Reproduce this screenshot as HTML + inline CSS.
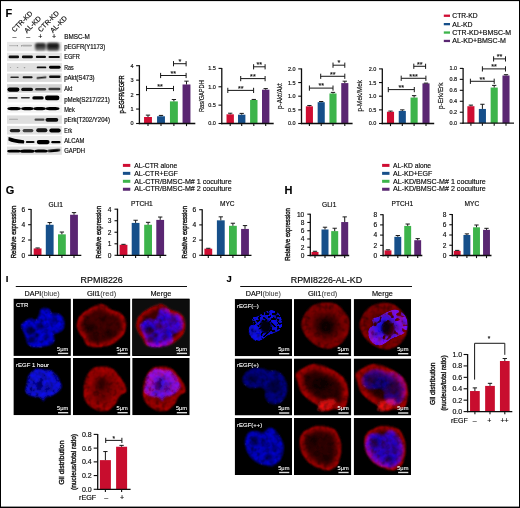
<!DOCTYPE html><html><head><meta charset="utf-8"><style>html,body{margin:0;padding:0;background:#fff;overflow:hidden;width:520px;height:508px;}svg{display:block;}text{font-family:"Liberation Sans", sans-serif;stroke:#1c1c1c;stroke-width:0.16px;}text.w{stroke:#fff;stroke-width:0.1px;}text.med{stroke-width:0.38px;}</style></head><body>
<svg width="520" height="508" viewBox="0 0 520 508">
<defs>
<filter id="b04" x="-20%" y="-20%" width="140%" height="140%"><feGaussianBlur stdDeviation="0.4"/></filter>
<filter id="soft" x="0" y="0" width="520" height="508" filterUnits="userSpaceOnUse"><feGaussianBlur stdDeviation="0.35"/></filter>
<filter id="b06" x="-50%" y="-50%" width="200%" height="200%"><feGaussianBlur stdDeviation="0.6"/></filter>
<filter id="b1" x="-50%" y="-50%" width="200%" height="200%"><feGaussianBlur stdDeviation="1"/></filter>
<filter id="b15" x="-50%" y="-50%" width="200%" height="200%"><feGaussianBlur stdDeviation="1.5"/></filter>
</defs>
<rect x="0" y="0" width="520" height="508" fill="#fff"/>
<g id="content" filter="url(#soft)">
<text x="5.5" y="16.6" font-size="11" font-weight="bold" fill="#000">F</text>
<text x="14.5" y="32.5" font-size="7" transform="rotate(-45 14.5 32.5)">CTR-KD</text>
<text x="27" y="33.4" font-size="7" transform="rotate(-45 27 33.4)">AL-KD</text>
<text x="40.8" y="32.4" font-size="7" transform="rotate(-45 40.8 32.4)">CTR-KD</text>
<text x="53" y="33.2" font-size="7" transform="rotate(-45 53 33.2)">AL-KD</text>
<text x="14.4" y="38.8" font-size="7" text-anchor="middle">–</text>
<text x="28.1" y="38.8" font-size="7" text-anchor="middle">–</text>
<text x="40.3" y="38.8" font-size="7" text-anchor="middle">+</text>
<text x="54.1" y="38.8" font-size="7" text-anchor="middle">+</text>
<g filter="url(#b04)">
<rect x="7" y="41.9" width="54.8" height="9.4" fill="#e8e8e8"/>
<rect x="7" y="52.8" width="54.8" height="8.3" fill="#e4e4e4"/>
<rect x="7" y="63.1" width="54.8" height="8.5" fill="#e0e0e0"/>
<rect x="7" y="73.5" width="54.8" height="8.4" fill="#dcdcdc"/>
<rect x="7" y="84.2" width="54.8" height="8.5" fill="#d4d4d4"/>
<rect x="7" y="94.3" width="54.8" height="8.1" fill="#f2f2f2"/>
<rect x="7" y="104.6" width="54.8" height="8.1" fill="#f4f4f4"/>
<rect x="7" y="115.4" width="54.8" height="8.4" fill="#dedede"/>
<rect x="7" y="125.9" width="54.8" height="8.6" fill="#e0e0e0"/>
<rect x="7" y="136" width="54.8" height="8.8" fill="#ececec"/>
<rect x="7" y="146.6" width="54.8" height="8.2" fill="#dedede"/>
</g>
<g>
<rect x="9" y="44.9" width="9" height="1.4" rx="0.7" fill="#000" opacity="0.18" filter="url(#b06)"/>
<rect x="22" y="44.8" width="10" height="1.6" rx="0.8" fill="#000" opacity="0.25" filter="url(#b06)"/>
<rect x="20.9" y="45.2" width="1.2" height="1.2" rx="0.6" fill="#000" opacity="0.5" filter="url(#b04)"/>
<rect x="17" y="45.3" width="1" height="1" rx="0.5" fill="#000" opacity="0.4" filter="url(#b04)"/>
<rect x="35.1" y="43" width="10.8" height="7.6" rx="2.2" fill="#000" opacity="0.6" filter="url(#b1)"/>
<rect x="35.5" y="43.8" width="10" height="3.2" rx="1.6" fill="#000" opacity="0.6" filter="url(#b1)"/>
<rect x="46.7" y="42.8" width="12.6" height="8" rx="2.2" fill="#000" opacity="0.7" filter="url(#b1)"/>
<rect x="47.25" y="43.8" width="11.5" height="4" rx="2" fill="#000" opacity="0.65" filter="url(#b1)"/>
<rect x="8.55" y="55.6" width="10.5" height="2.6" rx="1.3" fill="#000" opacity="0.95" filter="url(#b06)"/>
<rect x="21.9" y="55.6" width="11" height="2.6" rx="1.3" fill="#000" opacity="0.95" filter="url(#b06)"/>
<rect x="35.8" y="55.8" width="10.2" height="2.2" rx="1.1" fill="#000" opacity="0.95" filter="url(#b06)"/>
<rect x="48.5" y="55.9" width="11.4" height="2" rx="1" fill="#000" opacity="0.95" filter="url(#b06)"/>
<rect x="9.9" y="66.9" width="1.2" height="1" rx="0.5" fill="#000" opacity="0.25" filter="url(#b06)"/>
<rect x="16.8" y="66.95" width="1.6" height="1.1" rx="0.55" fill="#000" opacity="0.3" filter="url(#b06)"/>
<rect x="23.7" y="67.05" width="1.6" height="1.1" rx="0.55" fill="#000" opacity="0.3" filter="url(#b06)"/>
<rect x="36.7" y="66.45" width="9.6" height="1.9" rx="0.95" fill="#000" opacity="0.95" filter="url(#b06)"/>
<rect x="49" y="65.75" width="11.6" height="2.9" rx="1.45" fill="#000" opacity="1" filter="url(#b06)"/>
<rect x="10.3" y="76.45" width="8.6" height="1.5" rx="0.75" fill="#000" opacity="0.8" filter="url(#b06)"/>
<rect x="22.6" y="76.2" width="10" height="2" rx="1" fill="#000" opacity="0.9" filter="url(#b06)"/>
<rect x="36.5" y="76.7" width="10" height="1.8" rx="0.9" fill="#000" opacity="0.85" filter="url(#b06)" transform="rotate(-6 41.5 77.6)"/>
<rect x="49.05" y="75.5" width="11.5" height="2.6" rx="1.3" fill="#000" opacity="0.95" filter="url(#b06)"/>
<rect x="7.4" y="87.5" width="12" height="4.2" rx="2.1" fill="#000" opacity="1" filter="url(#b06)"/>
<rect x="21.2" y="87.7" width="11.8" height="3.4" rx="1.7" fill="#000" opacity="0.95" filter="url(#b06)"/>
<rect x="35.1" y="87.9" width="11" height="2.6" rx="1.3" fill="#000" opacity="0.72" filter="url(#b06)"/>
<rect x="48.4" y="87.7" width="12" height="2.6" rx="1.3" fill="#000" opacity="0.72" filter="url(#b06)"/>
<rect x="8.15" y="97.1" width="9.5" height="1.6" rx="0.8" fill="#000" opacity="0.75" filter="url(#b06)"/>
<rect x="20.9" y="97" width="9" height="1.6" rx="0.8" fill="#000" opacity="0.8" filter="url(#b06)"/>
<rect x="32.3" y="96.2" width="11.4" height="3.4" rx="1.7" fill="#000" opacity="1" filter="url(#b06)"/>
<rect x="45" y="95.6" width="14.4" height="4.6" rx="2.2" fill="#000" opacity="1" filter="url(#b06)"/>
<rect x="7.3" y="107" width="13.6" height="3.2" rx="3.81" ry="1.6" fill="#000" opacity="1" filter="url(#b06)"/>
<rect x="21.1" y="107" width="12.6" height="3.2" rx="3.53" ry="1.6" fill="#000" opacity="1" filter="url(#b06)"/>
<rect x="33.3" y="107" width="12.6" height="3.2" rx="3.53" ry="1.6" fill="#000" opacity="1" filter="url(#b06)"/>
<rect x="45.5" y="107" width="14" height="3.2" rx="3.92" ry="1.6" fill="#000" opacity="1" filter="url(#b06)"/>
<rect x="9" y="118.8" width="9" height="1" rx="0.5" fill="#000" opacity="0.25" filter="url(#b06)"/>
<rect x="34.5" y="118.6" width="10" height="2.2" rx="1.1" fill="#000" opacity="0.65" filter="url(#b06)"/>
<rect x="45.5" y="117.9" width="12.8" height="3.8" rx="1.9" fill="#000" opacity="0.95" filter="url(#b06)"/>
<rect x="9.8" y="129" width="10.4" height="3.2" rx="1.6" fill="#000" opacity="0.85" filter="url(#b06)"/>
<rect x="22.6" y="129.05" width="10.8" height="3.1" rx="1.55" fill="#000" opacity="0.7" filter="url(#b06)"/>
<rect x="36.2" y="128.2" width="11.2" height="4" rx="2" fill="#000" opacity="0.9" filter="url(#b06)"/>
<rect x="49.3" y="128.5" width="11.4" height="4" rx="2" fill="#000" opacity="1" filter="url(#b06)"/>
<path d="M8.6 137.0 Q13 138.8 23.8 140.2 Q25 141.6 23.8 143.4 Q13 143.4 8.4 140.6 Z" fill="#000" filter="url(#b06)"/>
<rect x="25.8" y="140.9" width="8.8" height="2.2" rx="1.1" fill="#000" opacity="0.95" filter="url(#b06)"/>
<rect x="36.8" y="140" width="12.8" height="4.2" rx="2.1" fill="#000" opacity="1" filter="url(#b06)"/>
<rect x="51.2" y="141.1" width="9.4" height="2.2" rx="1.1" fill="#000" opacity="1" filter="url(#b06)"/>
<rect x="7.2" y="149.8" width="13.6" height="2.8" rx="3.81" ry="1.4" fill="#000" opacity="1" filter="url(#b06)"/>
<rect x="19.9" y="149.6" width="14.6" height="3.2" rx="4.09" ry="1.6" fill="#000" opacity="1" filter="url(#b06)"/>
<rect x="34.2" y="149.5" width="13.6" height="3" rx="3.81" ry="1.5" fill="#000" opacity="1" filter="url(#b06)"/>
<rect x="47.5" y="149.3" width="13" height="2.6" rx="3.64" ry="1.3" fill="#000" opacity="1" filter="url(#b06)" transform="rotate(-5 54 150.6)"/>
</g>
<text x="64.2" y="39" font-size="6.3" textLength="25.7" lengthAdjust="spacingAndGlyphs">BMSC-M</text>
<text x="64.2" y="49.2" font-size="6.3" textLength="41" lengthAdjust="spacingAndGlyphs">pEGFR(Y1173)</text>
<text x="64.2" y="59.4" font-size="6.3" textLength="15.7" lengthAdjust="spacingAndGlyphs">EGFR</text>
<text x="64.2" y="70" font-size="6.3" textLength="9.4" lengthAdjust="spacingAndGlyphs">Ras</text>
<text x="64.2" y="80.1" font-size="6.3" textLength="30.4" lengthAdjust="spacingAndGlyphs">pAkt(S473)</text>
<text x="64.2" y="90.7" font-size="6.3" textLength="8" lengthAdjust="spacingAndGlyphs">Akt</text>
<text x="64.2" y="101.6" font-size="6.3" textLength="45.7" lengthAdjust="spacingAndGlyphs">pMek(S217/221)</text>
<text x="64.2" y="111.9" font-size="6.3" textLength="10.6" lengthAdjust="spacingAndGlyphs">Mek</text>
<text x="64.2" y="122.3" font-size="6.3" textLength="45.7" lengthAdjust="spacingAndGlyphs">pErk(T202/Y204)</text>
<text x="64.2" y="133.3" font-size="6.3" textLength="7.8" lengthAdjust="spacingAndGlyphs">Erk</text>
<text x="64.2" y="142.9" font-size="6.3" textLength="20.2" lengthAdjust="spacingAndGlyphs">ALCAM</text>
<text x="64.2" y="153.3" font-size="6.3" textLength="20.9" lengthAdjust="spacingAndGlyphs">GAPDH</text>
<rect x="443.8" y="14.6" width="6.2" height="2.3" fill="#cf1033"/>
<text x="452.3" y="18.2" font-size="6.8" textLength="25.3" lengthAdjust="spacingAndGlyphs">CTR-KD</text>
<rect x="443.8" y="23" width="6.2" height="2.3" fill="#14508a"/>
<text x="452.3" y="26.6" font-size="6.8" textLength="20.3" lengthAdjust="spacingAndGlyphs">AL-KD</text>
<rect x="443.8" y="31.4" width="6.2" height="2.3" fill="#3cb44b"/>
<text x="452.3" y="35" font-size="6.8" textLength="58.8" lengthAdjust="spacingAndGlyphs">CTR-KD+BMSC-M</text>
<rect x="443.8" y="39.8" width="6.2" height="2.3" fill="#5a2672"/>
<text x="452.3" y="43.4" font-size="6.8" textLength="53.6" lengthAdjust="spacingAndGlyphs">AL-KD+BMSC-M</text>
<rect x="144.05" y="117" width="7.9" height="6.5" fill="#cf1033"/>
<line x1="148" y1="115.12" x2="148" y2="117" stroke="#1a1a1a" stroke-width="1"/>
<line x1="145.85" y1="115.12" x2="150.15" y2="115.12" stroke="#1a1a1a" stroke-width="1"/>
<rect x="157.05" y="116.28" width="7.9" height="7.22" fill="#14508a"/>
<line x1="161" y1="115.41" x2="161" y2="116.28" stroke="#1a1a1a" stroke-width="1"/>
<line x1="158.85" y1="115.41" x2="163.15" y2="115.41" stroke="#1a1a1a" stroke-width="1"/>
<rect x="169.95" y="101.39" width="7.9" height="22.11" fill="#3cb44b"/>
<line x1="173.9" y1="99.51" x2="173.9" y2="101.39" stroke="#1a1a1a" stroke-width="1"/>
<line x1="171.75" y1="99.51" x2="176.05" y2="99.51" stroke="#1a1a1a" stroke-width="1"/>
<rect x="182.55" y="84.48" width="7.9" height="39.02" fill="#5a2672"/>
<line x1="186.5" y1="81.16" x2="186.5" y2="84.48" stroke="#1a1a1a" stroke-width="1"/>
<line x1="184.35" y1="81.16" x2="188.65" y2="81.16" stroke="#1a1a1a" stroke-width="1"/>
<line x1="139.4" y1="65.2" x2="139.4" y2="124.15" stroke="#111" stroke-width="1.3"/>
<line x1="138.75" y1="123.5" x2="195.3" y2="123.5" stroke="#111" stroke-width="1.3"/>
<line x1="136.1" y1="123.5" x2="139.4" y2="123.5" stroke="#111" stroke-width="1.1"/>
<text x="133.5" y="125.48" font-size="5.5" text-anchor="end">0</text>
<line x1="136.1" y1="109.05" x2="139.4" y2="109.05" stroke="#111" stroke-width="1.1"/>
<text x="133.5" y="111.03" font-size="5.5" text-anchor="end">1</text>
<line x1="136.1" y1="94.6" x2="139.4" y2="94.6" stroke="#111" stroke-width="1.1"/>
<text x="133.5" y="96.58" font-size="5.5" text-anchor="end">2</text>
<line x1="136.1" y1="80.15" x2="139.4" y2="80.15" stroke="#111" stroke-width="1.1"/>
<text x="133.5" y="82.13" font-size="5.5" text-anchor="end">3</text>
<line x1="136.1" y1="65.7" x2="139.4" y2="65.7" stroke="#111" stroke-width="1.1"/>
<text x="133.5" y="67.68" font-size="5.5" text-anchor="end">4</text>
<line x1="148" y1="123.5" x2="148" y2="126.1" stroke="#111" stroke-width="1.1"/>
<line x1="161" y1="123.5" x2="161" y2="126.1" stroke="#111" stroke-width="1.1"/>
<line x1="173.9" y1="123.5" x2="173.9" y2="126.1" stroke="#111" stroke-width="1.1"/>
<line x1="186.5" y1="123.5" x2="186.5" y2="126.1" stroke="#111" stroke-width="1.1"/>
<line x1="146.5" y1="88.5" x2="173.5" y2="88.5" stroke="#1a1a1a" stroke-width="1"/>
<line x1="146.5" y1="85.9" x2="146.5" y2="91.1" stroke="#1a1a1a" stroke-width="1"/>
<line x1="173.5" y1="85.9" x2="173.5" y2="91.1" stroke="#1a1a1a" stroke-width="1"/>
<text x="160" y="88.7" font-size="7.2" text-anchor="middle">**</text>
<line x1="160.6" y1="75.5" x2="186.1" y2="75.5" stroke="#1a1a1a" stroke-width="1"/>
<line x1="160.6" y1="72.9" x2="160.6" y2="78.1" stroke="#1a1a1a" stroke-width="1"/>
<line x1="186.1" y1="72.9" x2="186.1" y2="78.1" stroke="#1a1a1a" stroke-width="1"/>
<text x="173.35" y="75.7" font-size="7.2" text-anchor="middle">**</text>
<line x1="173.5" y1="63.7" x2="186.1" y2="63.7" stroke="#1a1a1a" stroke-width="1"/>
<line x1="173.5" y1="61.1" x2="173.5" y2="66.3" stroke="#1a1a1a" stroke-width="1"/>
<line x1="186.1" y1="61.1" x2="186.1" y2="66.3" stroke="#1a1a1a" stroke-width="1"/>
<text x="179.8" y="63.9" font-size="7.2" text-anchor="middle">*</text>
<text x="124" y="94.4" font-size="7.2" text-anchor="middle" class="med" transform="rotate(-90 124 94.4)" textLength="38.2" lengthAdjust="spacingAndGlyphs">p-EGFR/EGFR</text>
<rect x="226.5" y="114.32" width="7.4" height="9.18" fill="#cf1033"/>
<line x1="230.2" y1="113.21" x2="230.2" y2="114.32" stroke="#1a1a1a" stroke-width="1"/>
<line x1="228.05" y1="113.21" x2="232.35" y2="113.21" stroke="#1a1a1a" stroke-width="1"/>
<rect x="238" y="114.68" width="7.4" height="8.82" fill="#14508a"/>
<line x1="241.7" y1="113.4" x2="241.7" y2="114.68" stroke="#1a1a1a" stroke-width="1"/>
<line x1="239.55" y1="113.4" x2="243.85" y2="113.4" stroke="#1a1a1a" stroke-width="1"/>
<rect x="250.1" y="99.99" width="7.4" height="23.51" fill="#3cb44b"/>
<line x1="253.8" y1="99.44" x2="253.8" y2="99.99" stroke="#1a1a1a" stroke-width="1"/>
<line x1="251.65" y1="99.44" x2="255.95" y2="99.44" stroke="#1a1a1a" stroke-width="1"/>
<rect x="262" y="89.71" width="7.4" height="33.79" fill="#5a2672"/>
<line x1="265.7" y1="88.6" x2="265.7" y2="89.71" stroke="#1a1a1a" stroke-width="1"/>
<line x1="263.55" y1="88.6" x2="267.85" y2="88.6" stroke="#1a1a1a" stroke-width="1"/>
<line x1="221.8" y1="67.9" x2="221.8" y2="124.15" stroke="#111" stroke-width="1.3"/>
<line x1="221.15" y1="123.5" x2="273.7" y2="123.5" stroke="#111" stroke-width="1.3"/>
<line x1="218.5" y1="123.5" x2="221.8" y2="123.5" stroke="#111" stroke-width="1.1"/>
<text x="215.9" y="125.48" font-size="5.5" text-anchor="end">0.0</text>
<line x1="218.5" y1="105.13" x2="221.8" y2="105.13" stroke="#111" stroke-width="1.1"/>
<text x="215.9" y="107.11" font-size="5.5" text-anchor="end">0.5</text>
<line x1="218.5" y1="86.77" x2="221.8" y2="86.77" stroke="#111" stroke-width="1.1"/>
<text x="215.9" y="88.75" font-size="5.5" text-anchor="end">1.0</text>
<line x1="218.5" y1="68.4" x2="221.8" y2="68.4" stroke="#111" stroke-width="1.1"/>
<text x="215.9" y="70.38" font-size="5.5" text-anchor="end">1.5</text>
<line x1="230.2" y1="123.5" x2="230.2" y2="126.1" stroke="#111" stroke-width="1.1"/>
<line x1="241.7" y1="123.5" x2="241.7" y2="126.1" stroke="#111" stroke-width="1.1"/>
<line x1="253.8" y1="123.5" x2="253.8" y2="126.1" stroke="#111" stroke-width="1.1"/>
<line x1="265.7" y1="123.5" x2="265.7" y2="126.1" stroke="#111" stroke-width="1.1"/>
<line x1="227.8" y1="90.4" x2="253.6" y2="90.4" stroke="#1a1a1a" stroke-width="1"/>
<line x1="227.8" y1="87.8" x2="227.8" y2="93" stroke="#1a1a1a" stroke-width="1"/>
<line x1="253.6" y1="87.8" x2="253.6" y2="93" stroke="#1a1a1a" stroke-width="1"/>
<text x="240.7" y="90.6" font-size="7.2" text-anchor="middle">**</text>
<line x1="240.7" y1="78.6" x2="265.1" y2="78.6" stroke="#1a1a1a" stroke-width="1"/>
<line x1="240.7" y1="76" x2="240.7" y2="81.2" stroke="#1a1a1a" stroke-width="1"/>
<line x1="265.1" y1="76" x2="265.1" y2="81.2" stroke="#1a1a1a" stroke-width="1"/>
<text x="252.9" y="78.8" font-size="7.2" text-anchor="middle">**</text>
<line x1="253.6" y1="66.8" x2="265.1" y2="66.8" stroke="#1a1a1a" stroke-width="1"/>
<line x1="253.6" y1="64.2" x2="253.6" y2="69.4" stroke="#1a1a1a" stroke-width="1"/>
<line x1="265.1" y1="64.2" x2="265.1" y2="69.4" stroke="#1a1a1a" stroke-width="1"/>
<text x="259.35" y="67" font-size="7.2" text-anchor="middle">**</text>
<text x="204.2" y="96.1" font-size="7.0" text-anchor="middle" transform="rotate(-90 204.2 96.1)" textLength="31.8" lengthAdjust="spacingAndGlyphs">Ras/GAPDH</text>
<rect x="305.85" y="106.3" width="7.1" height="17.2" fill="#cf1033"/>
<line x1="309.4" y1="105.48" x2="309.4" y2="106.3" stroke="#1a1a1a" stroke-width="1"/>
<line x1="307.25" y1="105.48" x2="311.55" y2="105.48" stroke="#1a1a1a" stroke-width="1"/>
<rect x="317.65" y="102.21" width="7.1" height="21.29" fill="#14508a"/>
<line x1="321.2" y1="101.52" x2="321.2" y2="102.21" stroke="#1a1a1a" stroke-width="1"/>
<line x1="319.05" y1="101.52" x2="323.35" y2="101.52" stroke="#1a1a1a" stroke-width="1"/>
<rect x="329.45" y="93.47" width="7.1" height="30.03" fill="#3cb44b"/>
<line x1="333" y1="92.38" x2="333" y2="93.47" stroke="#1a1a1a" stroke-width="1"/>
<line x1="330.85" y1="92.38" x2="335.15" y2="92.38" stroke="#1a1a1a" stroke-width="1"/>
<rect x="341.25" y="83.1" width="7.1" height="40.4" fill="#5a2672"/>
<line x1="344.8" y1="81.19" x2="344.8" y2="83.1" stroke="#1a1a1a" stroke-width="1"/>
<line x1="342.65" y1="81.19" x2="346.95" y2="81.19" stroke="#1a1a1a" stroke-width="1"/>
<line x1="301.5" y1="68.4" x2="301.5" y2="124.15" stroke="#111" stroke-width="1.3"/>
<line x1="300.85" y1="123.5" x2="352.6" y2="123.5" stroke="#111" stroke-width="1.3"/>
<line x1="298.2" y1="123.5" x2="301.5" y2="123.5" stroke="#111" stroke-width="1.1"/>
<text x="295.6" y="125.48" font-size="5.5" text-anchor="end">0.0</text>
<line x1="298.2" y1="109.85" x2="301.5" y2="109.85" stroke="#111" stroke-width="1.1"/>
<text x="295.6" y="111.83" font-size="5.5" text-anchor="end">0.5</text>
<line x1="298.2" y1="96.2" x2="301.5" y2="96.2" stroke="#111" stroke-width="1.1"/>
<text x="295.6" y="98.18" font-size="5.5" text-anchor="end">1.0</text>
<line x1="298.2" y1="82.55" x2="301.5" y2="82.55" stroke="#111" stroke-width="1.1"/>
<text x="295.6" y="84.53" font-size="5.5" text-anchor="end">1.5</text>
<line x1="298.2" y1="68.9" x2="301.5" y2="68.9" stroke="#111" stroke-width="1.1"/>
<text x="295.6" y="70.88" font-size="5.5" text-anchor="end">2.0</text>
<line x1="309.4" y1="123.5" x2="309.4" y2="126.1" stroke="#111" stroke-width="1.1"/>
<line x1="321.2" y1="123.5" x2="321.2" y2="126.1" stroke="#111" stroke-width="1.1"/>
<line x1="333" y1="123.5" x2="333" y2="126.1" stroke="#111" stroke-width="1.1"/>
<line x1="344.8" y1="123.5" x2="344.8" y2="126.1" stroke="#111" stroke-width="1.1"/>
<line x1="309.4" y1="88.1" x2="333" y2="88.1" stroke="#1a1a1a" stroke-width="1"/>
<line x1="309.4" y1="85.5" x2="309.4" y2="90.7" stroke="#1a1a1a" stroke-width="1"/>
<line x1="333" y1="85.5" x2="333" y2="90.7" stroke="#1a1a1a" stroke-width="1"/>
<text x="321.2" y="88.3" font-size="7.2" text-anchor="middle">**</text>
<line x1="320.7" y1="76.3" x2="344.8" y2="76.3" stroke="#1a1a1a" stroke-width="1"/>
<line x1="320.7" y1="73.7" x2="320.7" y2="78.9" stroke="#1a1a1a" stroke-width="1"/>
<line x1="344.8" y1="73.7" x2="344.8" y2="78.9" stroke="#1a1a1a" stroke-width="1"/>
<text x="332.75" y="76.5" font-size="7.2" text-anchor="middle">**</text>
<line x1="333" y1="65.2" x2="344.8" y2="65.2" stroke="#1a1a1a" stroke-width="1"/>
<line x1="333" y1="62.6" x2="333" y2="67.8" stroke="#1a1a1a" stroke-width="1"/>
<line x1="344.8" y1="62.6" x2="344.8" y2="67.8" stroke="#1a1a1a" stroke-width="1"/>
<text x="338.9" y="65.4" font-size="7.2" text-anchor="middle">*</text>
<text x="281.6" y="96.1" font-size="7.0" text-anchor="middle" transform="rotate(-90 281.6 96.1)" textLength="25.6" lengthAdjust="spacingAndGlyphs">p-Akt/Akt</text>
<rect x="386.95" y="111.76" width="7.1" height="11.74" fill="#cf1033"/>
<line x1="390.5" y1="111.08" x2="390.5" y2="111.76" stroke="#1a1a1a" stroke-width="1"/>
<line x1="388.35" y1="111.08" x2="392.65" y2="111.08" stroke="#1a1a1a" stroke-width="1"/>
<rect x="398.75" y="110.94" width="7.1" height="12.56" fill="#14508a"/>
<line x1="402.3" y1="109.85" x2="402.3" y2="110.94" stroke="#1a1a1a" stroke-width="1"/>
<line x1="400.15" y1="109.85" x2="404.45" y2="109.85" stroke="#1a1a1a" stroke-width="1"/>
<rect x="410.55" y="97.56" width="7.1" height="25.94" fill="#3cb44b"/>
<line x1="414.1" y1="95.65" x2="414.1" y2="97.56" stroke="#1a1a1a" stroke-width="1"/>
<line x1="411.95" y1="95.65" x2="416.25" y2="95.65" stroke="#1a1a1a" stroke-width="1"/>
<rect x="422.45" y="83.37" width="7.1" height="40.13" fill="#5a2672"/>
<line x1="426" y1="83.1" x2="426" y2="83.37" stroke="#1a1a1a" stroke-width="1"/>
<line x1="423.85" y1="83.1" x2="428.15" y2="83.1" stroke="#1a1a1a" stroke-width="1"/>
<line x1="382.3" y1="68.4" x2="382.3" y2="124.15" stroke="#111" stroke-width="1.3"/>
<line x1="381.65" y1="123.5" x2="434.2" y2="123.5" stroke="#111" stroke-width="1.3"/>
<line x1="379" y1="123.5" x2="382.3" y2="123.5" stroke="#111" stroke-width="1.1"/>
<text x="376.4" y="125.48" font-size="5.5" text-anchor="end">0.0</text>
<line x1="379" y1="109.85" x2="382.3" y2="109.85" stroke="#111" stroke-width="1.1"/>
<text x="376.4" y="111.83" font-size="5.5" text-anchor="end">0.5</text>
<line x1="379" y1="96.2" x2="382.3" y2="96.2" stroke="#111" stroke-width="1.1"/>
<text x="376.4" y="98.18" font-size="5.5" text-anchor="end">1.0</text>
<line x1="379" y1="82.55" x2="382.3" y2="82.55" stroke="#111" stroke-width="1.1"/>
<text x="376.4" y="84.53" font-size="5.5" text-anchor="end">1.5</text>
<line x1="379" y1="68.9" x2="382.3" y2="68.9" stroke="#111" stroke-width="1.1"/>
<text x="376.4" y="70.88" font-size="5.5" text-anchor="end">2.0</text>
<line x1="390.5" y1="123.5" x2="390.5" y2="126.1" stroke="#111" stroke-width="1.1"/>
<line x1="402.3" y1="123.5" x2="402.3" y2="126.1" stroke="#111" stroke-width="1.1"/>
<line x1="414.1" y1="123.5" x2="414.1" y2="126.1" stroke="#111" stroke-width="1.1"/>
<line x1="426" y1="123.5" x2="426" y2="126.1" stroke="#111" stroke-width="1.1"/>
<line x1="388.3" y1="89.6" x2="414.3" y2="89.6" stroke="#1a1a1a" stroke-width="1"/>
<line x1="388.3" y1="87" x2="388.3" y2="92.2" stroke="#1a1a1a" stroke-width="1"/>
<line x1="414.3" y1="87" x2="414.3" y2="92.2" stroke="#1a1a1a" stroke-width="1"/>
<text x="401.3" y="89.8" font-size="7.2" text-anchor="middle">**</text>
<line x1="401.2" y1="78.3" x2="425.9" y2="78.3" stroke="#1a1a1a" stroke-width="1"/>
<line x1="401.2" y1="75.7" x2="401.2" y2="80.9" stroke="#1a1a1a" stroke-width="1"/>
<line x1="425.9" y1="75.7" x2="425.9" y2="80.9" stroke="#1a1a1a" stroke-width="1"/>
<text x="413.55" y="78.5" font-size="7.2" text-anchor="middle">***</text>
<line x1="413.8" y1="66.3" x2="425.6" y2="66.3" stroke="#1a1a1a" stroke-width="1"/>
<line x1="413.8" y1="63.7" x2="413.8" y2="68.9" stroke="#1a1a1a" stroke-width="1"/>
<line x1="425.6" y1="63.7" x2="425.6" y2="68.9" stroke="#1a1a1a" stroke-width="1"/>
<text x="419.7" y="66.5" font-size="7.2" text-anchor="middle">**</text>
<text x="362.3" y="95.8" font-size="7.0" text-anchor="middle" transform="rotate(-90 362.3 95.8)" textLength="31.5" lengthAdjust="spacingAndGlyphs">p-Mek/Mek</text>
<rect x="467.35" y="106.21" width="7.1" height="16.99" fill="#cf1033"/>
<line x1="470.9" y1="105.12" x2="470.9" y2="106.21" stroke="#1a1a1a" stroke-width="1"/>
<line x1="468.75" y1="105.12" x2="473.05" y2="105.12" stroke="#1a1a1a" stroke-width="1"/>
<rect x="478.85" y="108.95" width="7.1" height="14.25" fill="#14508a"/>
<line x1="482.4" y1="104.29" x2="482.4" y2="108.95" stroke="#1a1a1a" stroke-width="1"/>
<line x1="480.25" y1="104.29" x2="484.55" y2="104.29" stroke="#1a1a1a" stroke-width="1"/>
<rect x="490.65" y="87.58" width="7.1" height="35.62" fill="#3cb44b"/>
<line x1="494.2" y1="85.39" x2="494.2" y2="87.58" stroke="#1a1a1a" stroke-width="1"/>
<line x1="492.05" y1="85.39" x2="496.35" y2="85.39" stroke="#1a1a1a" stroke-width="1"/>
<rect x="502.45" y="75.52" width="7.1" height="47.68" fill="#5a2672"/>
<line x1="506" y1="74.7" x2="506" y2="75.52" stroke="#1a1a1a" stroke-width="1"/>
<line x1="503.85" y1="74.7" x2="508.15" y2="74.7" stroke="#1a1a1a" stroke-width="1"/>
<line x1="463.1" y1="67.9" x2="463.1" y2="123.85" stroke="#111" stroke-width="1.3"/>
<line x1="462.45" y1="123.2" x2="514" y2="123.2" stroke="#111" stroke-width="1.3"/>
<line x1="459.8" y1="123.2" x2="463.1" y2="123.2" stroke="#111" stroke-width="1.1"/>
<text x="457.2" y="125.18" font-size="5.5" text-anchor="end">0.0</text>
<line x1="459.8" y1="112.24" x2="463.1" y2="112.24" stroke="#111" stroke-width="1.1"/>
<text x="457.2" y="114.22" font-size="5.5" text-anchor="end">0.2</text>
<line x1="459.8" y1="101.28" x2="463.1" y2="101.28" stroke="#111" stroke-width="1.1"/>
<text x="457.2" y="103.26" font-size="5.5" text-anchor="end">0.4</text>
<line x1="459.8" y1="90.32" x2="463.1" y2="90.32" stroke="#111" stroke-width="1.1"/>
<text x="457.2" y="92.3" font-size="5.5" text-anchor="end">0.6</text>
<line x1="459.8" y1="79.36" x2="463.1" y2="79.36" stroke="#111" stroke-width="1.1"/>
<text x="457.2" y="81.34" font-size="5.5" text-anchor="end">0.8</text>
<line x1="459.8" y1="68.4" x2="463.1" y2="68.4" stroke="#111" stroke-width="1.1"/>
<text x="457.2" y="70.38" font-size="5.5" text-anchor="end">1.0</text>
<line x1="470.9" y1="123.2" x2="470.9" y2="125.8" stroke="#111" stroke-width="1.1"/>
<line x1="482.4" y1="123.2" x2="482.4" y2="125.8" stroke="#111" stroke-width="1.1"/>
<line x1="494.2" y1="123.2" x2="494.2" y2="125.8" stroke="#111" stroke-width="1.1"/>
<line x1="506" y1="123.2" x2="506" y2="125.8" stroke="#111" stroke-width="1.1"/>
<line x1="470.4" y1="81.3" x2="494.2" y2="81.3" stroke="#1a1a1a" stroke-width="1"/>
<line x1="470.4" y1="78.7" x2="470.4" y2="83.9" stroke="#1a1a1a" stroke-width="1"/>
<line x1="494.2" y1="78.7" x2="494.2" y2="83.9" stroke="#1a1a1a" stroke-width="1"/>
<text x="482.3" y="81.5" font-size="7.2" text-anchor="middle">**</text>
<line x1="482.4" y1="68.9" x2="505.5" y2="68.9" stroke="#1a1a1a" stroke-width="1"/>
<line x1="482.4" y1="66.3" x2="482.4" y2="71.5" stroke="#1a1a1a" stroke-width="1"/>
<line x1="505.5" y1="66.3" x2="505.5" y2="71.5" stroke="#1a1a1a" stroke-width="1"/>
<text x="493.95" y="69.1" font-size="7.2" text-anchor="middle">**</text>
<line x1="493.6" y1="58.9" x2="505.5" y2="58.9" stroke="#1a1a1a" stroke-width="1"/>
<line x1="493.6" y1="56.3" x2="493.6" y2="61.5" stroke="#1a1a1a" stroke-width="1"/>
<line x1="505.5" y1="56.3" x2="505.5" y2="61.5" stroke="#1a1a1a" stroke-width="1"/>
<text x="499.55" y="59.1" font-size="7.2" text-anchor="middle">**</text>
<text x="443" y="95.8" font-size="7.0" text-anchor="middle" transform="rotate(-90 443 95.8)" textLength="26.3" lengthAdjust="spacingAndGlyphs">p-Erk/Erk</text>
<text x="5.8" y="194.4" font-size="11" font-weight="bold" fill="#000">G</text>
<text x="284.6" y="193.8" font-size="11" font-weight="bold" fill="#000">H</text>
<rect x="122.9" y="163.9" width="7.4" height="3" fill="#cf1033"/>
<text x="134.2" y="167.6" font-size="6.9" textLength="43" lengthAdjust="spacingAndGlyphs">AL-CTR alone</text>
<rect x="122.9" y="171.85" width="7.4" height="3" fill="#14508a"/>
<text x="134.2" y="175.55" font-size="6.9" textLength="43.7" lengthAdjust="spacingAndGlyphs">AL-CTR+EGF</text>
<rect x="122.9" y="179.8" width="7.4" height="3" fill="#3cb44b"/>
<text x="134.2" y="183.5" font-size="6.9" textLength="97.5" lengthAdjust="spacingAndGlyphs">AL-CTR/BMSC-M# 1 coculture</text>
<rect x="122.9" y="187.75" width="7.4" height="3" fill="#5a2672"/>
<text x="134.2" y="191.45" font-size="6.9" textLength="97.5" lengthAdjust="spacingAndGlyphs">AL-CTR/BMSC-M# 2 coculture</text>
<rect x="382.1" y="163.9" width="7.4" height="3" fill="#cf1033"/>
<text x="393.1" y="167.6" font-size="6.9" textLength="38" lengthAdjust="spacingAndGlyphs">AL-KD alone</text>
<rect x="382.1" y="171.85" width="7.4" height="3" fill="#14508a"/>
<text x="393.1" y="175.55" font-size="6.9" textLength="39.2" lengthAdjust="spacingAndGlyphs">AL-KD+EGF</text>
<rect x="382.1" y="179.8" width="7.4" height="3" fill="#3cb44b"/>
<text x="393.1" y="183.5" font-size="6.9" textLength="92.7" lengthAdjust="spacingAndGlyphs">AL-KD/BMSC-M# 1 coculture</text>
<rect x="382.1" y="187.75" width="7.4" height="3" fill="#5a2672"/>
<text x="393.1" y="191.45" font-size="6.9" textLength="92.7" lengthAdjust="spacingAndGlyphs">AL-KD/BMSC-M# 2 coculture</text>
<rect x="33.7" y="248.42" width="7.8" height="6.88" fill="#cf1033"/>
<line x1="37.6" y1="247.96" x2="37.6" y2="248.42" stroke="#1a1a1a" stroke-width="1"/>
<line x1="35.45" y1="247.96" x2="39.75" y2="247.96" stroke="#1a1a1a" stroke-width="1"/>
<rect x="45.8" y="224.78" width="7.8" height="30.52" fill="#14508a"/>
<line x1="49.7" y1="222.56" x2="49.7" y2="224.78" stroke="#1a1a1a" stroke-width="1"/>
<line x1="47.55" y1="222.56" x2="51.85" y2="222.56" stroke="#1a1a1a" stroke-width="1"/>
<rect x="58" y="234.34" width="7.8" height="20.96" fill="#3cb44b"/>
<line x1="61.9" y1="232.04" x2="61.9" y2="234.34" stroke="#1a1a1a" stroke-width="1"/>
<line x1="59.75" y1="232.04" x2="64.05" y2="232.04" stroke="#1a1a1a" stroke-width="1"/>
<rect x="70.1" y="214.75" width="7.8" height="40.55" fill="#5a2672"/>
<line x1="74" y1="212.61" x2="74" y2="214.75" stroke="#1a1a1a" stroke-width="1"/>
<line x1="71.85" y1="212.61" x2="76.15" y2="212.61" stroke="#1a1a1a" stroke-width="1"/>
<line x1="31.1" y1="208.9" x2="31.1" y2="255.95" stroke="#111" stroke-width="1.3"/>
<line x1="30.45" y1="255.3" x2="81.3" y2="255.3" stroke="#111" stroke-width="1.3"/>
<line x1="28.1" y1="255.3" x2="31.1" y2="255.3" stroke="#111" stroke-width="1.1"/>
<text x="25.1" y="257.68" font-size="6.6" text-anchor="end">0</text>
<line x1="28.1" y1="240" x2="31.1" y2="240" stroke="#111" stroke-width="1.1"/>
<text x="25.1" y="242.38" font-size="6.6" text-anchor="end">2</text>
<line x1="28.1" y1="224.7" x2="31.1" y2="224.7" stroke="#111" stroke-width="1.1"/>
<text x="25.1" y="227.08" font-size="6.6" text-anchor="end">4</text>
<line x1="28.1" y1="209.4" x2="31.1" y2="209.4" stroke="#111" stroke-width="1.1"/>
<text x="25.1" y="211.78" font-size="6.6" text-anchor="end">6</text>
<line x1="37.6" y1="255.3" x2="37.6" y2="257.9" stroke="#111" stroke-width="1.1"/>
<line x1="49.7" y1="255.3" x2="49.7" y2="257.9" stroke="#111" stroke-width="1.1"/>
<line x1="61.9" y1="255.3" x2="61.9" y2="257.9" stroke="#111" stroke-width="1.1"/>
<line x1="74" y1="255.3" x2="74" y2="257.9" stroke="#111" stroke-width="1.1"/>
<text x="55.7" y="206.8" font-size="6.6" text-anchor="middle">GLI1</text>
<text x="16.2" y="232" font-size="6.8" text-anchor="middle" class="med" transform="rotate(-90 16.2 232)" textLength="52.5" lengthAdjust="spacingAndGlyphs">Relative expression</text>
<rect x="119.6" y="244.81" width="7.8" height="10.49" fill="#cf1033"/>
<line x1="123.5" y1="244.35" x2="123.5" y2="244.81" stroke="#1a1a1a" stroke-width="1"/>
<line x1="121.35" y1="244.35" x2="125.65" y2="244.35" stroke="#1a1a1a" stroke-width="1"/>
<rect x="131.7" y="222.91" width="7.8" height="32.39" fill="#14508a"/>
<line x1="135.6" y1="220.26" x2="135.6" y2="222.91" stroke="#1a1a1a" stroke-width="1"/>
<line x1="133.45" y1="220.26" x2="137.75" y2="220.26" stroke="#1a1a1a" stroke-width="1"/>
<rect x="144.2" y="224.76" width="7.8" height="30.54" fill="#3cb44b"/>
<line x1="148.1" y1="222.34" x2="148.1" y2="224.76" stroke="#1a1a1a" stroke-width="1"/>
<line x1="145.95" y1="222.34" x2="150.25" y2="222.34" stroke="#1a1a1a" stroke-width="1"/>
<rect x="156.3" y="219.92" width="7.8" height="35.38" fill="#5a2672"/>
<line x1="160.2" y1="217.04" x2="160.2" y2="219.92" stroke="#1a1a1a" stroke-width="1"/>
<line x1="158.05" y1="217.04" x2="162.35" y2="217.04" stroke="#1a1a1a" stroke-width="1"/>
<line x1="117.5" y1="208.7" x2="117.5" y2="255.95" stroke="#111" stroke-width="1.3"/>
<line x1="116.85" y1="255.3" x2="166.3" y2="255.3" stroke="#111" stroke-width="1.3"/>
<line x1="114.5" y1="255.3" x2="117.5" y2="255.3" stroke="#111" stroke-width="1.1"/>
<text x="111.5" y="257.68" font-size="6.6" text-anchor="end">0</text>
<line x1="114.5" y1="243.78" x2="117.5" y2="243.78" stroke="#111" stroke-width="1.1"/>
<text x="111.5" y="246.15" font-size="6.6" text-anchor="end">1</text>
<line x1="114.5" y1="232.25" x2="117.5" y2="232.25" stroke="#111" stroke-width="1.1"/>
<text x="111.5" y="234.63" font-size="6.6" text-anchor="end">2</text>
<line x1="114.5" y1="220.72" x2="117.5" y2="220.72" stroke="#111" stroke-width="1.1"/>
<text x="111.5" y="223.1" font-size="6.6" text-anchor="end">3</text>
<line x1="114.5" y1="209.2" x2="117.5" y2="209.2" stroke="#111" stroke-width="1.1"/>
<text x="111.5" y="211.58" font-size="6.6" text-anchor="end">4</text>
<line x1="123.5" y1="255.3" x2="123.5" y2="257.9" stroke="#111" stroke-width="1.1"/>
<line x1="135.6" y1="255.3" x2="135.6" y2="257.9" stroke="#111" stroke-width="1.1"/>
<line x1="148.1" y1="255.3" x2="148.1" y2="257.9" stroke="#111" stroke-width="1.1"/>
<line x1="160.2" y1="255.3" x2="160.2" y2="257.9" stroke="#111" stroke-width="1.1"/>
<text x="141.8" y="206" font-size="6.6" text-anchor="middle">PTCH1</text>
<text x="101.4" y="232.2" font-size="6.8" text-anchor="middle" class="med" transform="rotate(-90 101.4 232.2)" textLength="52.5" lengthAdjust="spacingAndGlyphs">Relative expression</text>
<rect x="204.4" y="248.69" width="7.8" height="6.61" fill="#cf1033"/>
<line x1="208.3" y1="248.31" x2="208.3" y2="248.69" stroke="#1a1a1a" stroke-width="1"/>
<line x1="206.15" y1="248.31" x2="210.45" y2="248.31" stroke="#1a1a1a" stroke-width="1"/>
<rect x="216.9" y="220.34" width="7.8" height="34.96" fill="#14508a"/>
<line x1="220.8" y1="216.84" x2="220.8" y2="220.34" stroke="#1a1a1a" stroke-width="1"/>
<line x1="218.65" y1="216.84" x2="222.95" y2="216.84" stroke="#1a1a1a" stroke-width="1"/>
<rect x="229" y="225.81" width="7.8" height="29.49" fill="#3cb44b"/>
<line x1="232.9" y1="223.23" x2="232.9" y2="225.81" stroke="#1a1a1a" stroke-width="1"/>
<line x1="230.75" y1="223.23" x2="235.05" y2="223.23" stroke="#1a1a1a" stroke-width="1"/>
<rect x="241.1" y="228.93" width="7.8" height="26.37" fill="#5a2672"/>
<line x1="245" y1="225.58" x2="245" y2="228.93" stroke="#1a1a1a" stroke-width="1"/>
<line x1="242.85" y1="225.58" x2="247.15" y2="225.58" stroke="#1a1a1a" stroke-width="1"/>
<line x1="202.2" y1="209.2" x2="202.2" y2="255.95" stroke="#111" stroke-width="1.3"/>
<line x1="201.55" y1="255.3" x2="251.5" y2="255.3" stroke="#111" stroke-width="1.3"/>
<line x1="199.2" y1="255.3" x2="202.2" y2="255.3" stroke="#111" stroke-width="1.1"/>
<text x="196.2" y="257.68" font-size="6.6" text-anchor="end">0</text>
<line x1="199.2" y1="240.1" x2="202.2" y2="240.1" stroke="#111" stroke-width="1.1"/>
<text x="196.2" y="242.48" font-size="6.6" text-anchor="end">2</text>
<line x1="199.2" y1="224.9" x2="202.2" y2="224.9" stroke="#111" stroke-width="1.1"/>
<text x="196.2" y="227.28" font-size="6.6" text-anchor="end">4</text>
<line x1="199.2" y1="209.7" x2="202.2" y2="209.7" stroke="#111" stroke-width="1.1"/>
<text x="196.2" y="212.08" font-size="6.6" text-anchor="end">6</text>
<line x1="208.3" y1="255.3" x2="208.3" y2="257.9" stroke="#111" stroke-width="1.1"/>
<line x1="220.8" y1="255.3" x2="220.8" y2="257.9" stroke="#111" stroke-width="1.1"/>
<line x1="232.9" y1="255.3" x2="232.9" y2="257.9" stroke="#111" stroke-width="1.1"/>
<line x1="245" y1="255.3" x2="245" y2="257.9" stroke="#111" stroke-width="1.1"/>
<text x="227.3" y="206" font-size="6.6" text-anchor="middle">MYC</text>
<text x="186.6" y="232.2" font-size="6.8" text-anchor="middle" class="med" transform="rotate(-90 186.6 232.2)" textLength="52.5" lengthAdjust="spacingAndGlyphs">Relative expression</text>
<rect x="311.5" y="251.99" width="7" height="3.51" fill="#cf1033"/>
<line x1="315" y1="251.29" x2="315" y2="251.99" stroke="#1a1a1a" stroke-width="1"/>
<line x1="312.85" y1="251.29" x2="317.15" y2="251.29" stroke="#1a1a1a" stroke-width="1"/>
<rect x="321.5" y="229.48" width="7" height="26.02" fill="#14508a"/>
<line x1="325" y1="227.21" x2="325" y2="229.48" stroke="#1a1a1a" stroke-width="1"/>
<line x1="322.85" y1="227.21" x2="327.15" y2="227.21" stroke="#1a1a1a" stroke-width="1"/>
<rect x="331.2" y="231.13" width="7" height="24.37" fill="#3cb44b"/>
<line x1="334.7" y1="228.24" x2="334.7" y2="231.13" stroke="#1a1a1a" stroke-width="1"/>
<line x1="332.55" y1="228.24" x2="336.85" y2="228.24" stroke="#1a1a1a" stroke-width="1"/>
<rect x="341.2" y="222.05" width="7" height="33.45" fill="#5a2672"/>
<line x1="344.7" y1="216.88" x2="344.7" y2="222.05" stroke="#1a1a1a" stroke-width="1"/>
<line x1="342.55" y1="216.88" x2="346.85" y2="216.88" stroke="#1a1a1a" stroke-width="1"/>
<line x1="310.3" y1="213.7" x2="310.3" y2="256.15" stroke="#111" stroke-width="1.3"/>
<line x1="309.65" y1="255.5" x2="349.2" y2="255.5" stroke="#111" stroke-width="1.3"/>
<line x1="307.3" y1="255.5" x2="310.3" y2="255.5" stroke="#111" stroke-width="1.1"/>
<text x="304.3" y="257.88" font-size="6.6" text-anchor="end">0</text>
<line x1="307.3" y1="247.24" x2="310.3" y2="247.24" stroke="#111" stroke-width="1.1"/>
<text x="304.3" y="249.62" font-size="6.6" text-anchor="end">2</text>
<line x1="307.3" y1="238.98" x2="310.3" y2="238.98" stroke="#111" stroke-width="1.1"/>
<text x="304.3" y="241.36" font-size="6.6" text-anchor="end">4</text>
<line x1="307.3" y1="230.72" x2="310.3" y2="230.72" stroke="#111" stroke-width="1.1"/>
<text x="304.3" y="233.1" font-size="6.6" text-anchor="end">6</text>
<line x1="307.3" y1="222.46" x2="310.3" y2="222.46" stroke="#111" stroke-width="1.1"/>
<text x="304.3" y="224.84" font-size="6.6" text-anchor="end">8</text>
<line x1="307.3" y1="214.2" x2="310.3" y2="214.2" stroke="#111" stroke-width="1.1"/>
<text x="304.3" y="216.58" font-size="6.6" text-anchor="end">10</text>
<line x1="315" y1="255.5" x2="315" y2="258.1" stroke="#111" stroke-width="1.1"/>
<line x1="325" y1="255.5" x2="325" y2="258.1" stroke="#111" stroke-width="1.1"/>
<line x1="334.7" y1="255.5" x2="334.7" y2="258.1" stroke="#111" stroke-width="1.1"/>
<line x1="344.7" y1="255.5" x2="344.7" y2="258.1" stroke="#111" stroke-width="1.1"/>
<text x="329.2" y="206.6" font-size="6.6" text-anchor="middle">GLI1</text>
<text x="289.8" y="234.4" font-size="6.8" text-anchor="middle" class="med" transform="rotate(-90 289.8 234.4)" textLength="52.8" lengthAdjust="spacingAndGlyphs">Relative expression</text>
<rect x="384.55" y="250.4" width="6.9" height="5.1" fill="#cf1033"/>
<line x1="388" y1="249.79" x2="388" y2="250.4" stroke="#1a1a1a" stroke-width="1"/>
<line x1="385.85" y1="249.79" x2="390.15" y2="249.79" stroke="#1a1a1a" stroke-width="1"/>
<rect x="394.35" y="236.83" width="6.9" height="18.67" fill="#14508a"/>
<line x1="397.8" y1="235.51" x2="397.8" y2="236.83" stroke="#1a1a1a" stroke-width="1"/>
<line x1="395.65" y1="235.51" x2="399.95" y2="235.51" stroke="#1a1a1a" stroke-width="1"/>
<rect x="404.25" y="225.92" width="6.9" height="29.58" fill="#3cb44b"/>
<line x1="407.7" y1="224.03" x2="407.7" y2="225.92" stroke="#1a1a1a" stroke-width="1"/>
<line x1="405.55" y1="224.03" x2="409.85" y2="224.03" stroke="#1a1a1a" stroke-width="1"/>
<rect x="414.25" y="240.2" width="6.9" height="15.3" fill="#5a2672"/>
<line x1="417.7" y1="238.62" x2="417.7" y2="240.2" stroke="#1a1a1a" stroke-width="1"/>
<line x1="415.55" y1="238.62" x2="419.85" y2="238.62" stroke="#1a1a1a" stroke-width="1"/>
<line x1="383.1" y1="214.2" x2="383.1" y2="256.15" stroke="#111" stroke-width="1.3"/>
<line x1="382.45" y1="255.5" x2="422.3" y2="255.5" stroke="#111" stroke-width="1.3"/>
<line x1="380.1" y1="255.5" x2="383.1" y2="255.5" stroke="#111" stroke-width="1.1"/>
<text x="377.1" y="257.88" font-size="6.6" text-anchor="end">0</text>
<line x1="380.1" y1="245.3" x2="383.1" y2="245.3" stroke="#111" stroke-width="1.1"/>
<text x="377.1" y="247.68" font-size="6.6" text-anchor="end">2</text>
<line x1="380.1" y1="235.1" x2="383.1" y2="235.1" stroke="#111" stroke-width="1.1"/>
<text x="377.1" y="237.48" font-size="6.6" text-anchor="end">4</text>
<line x1="380.1" y1="224.9" x2="383.1" y2="224.9" stroke="#111" stroke-width="1.1"/>
<text x="377.1" y="227.28" font-size="6.6" text-anchor="end">6</text>
<line x1="380.1" y1="214.7" x2="383.1" y2="214.7" stroke="#111" stroke-width="1.1"/>
<text x="377.1" y="217.08" font-size="6.6" text-anchor="end">8</text>
<line x1="388" y1="255.5" x2="388" y2="258.1" stroke="#111" stroke-width="1.1"/>
<line x1="397.8" y1="255.5" x2="397.8" y2="258.1" stroke="#111" stroke-width="1.1"/>
<line x1="407.7" y1="255.5" x2="407.7" y2="258.1" stroke="#111" stroke-width="1.1"/>
<line x1="417.7" y1="255.5" x2="417.7" y2="258.1" stroke="#111" stroke-width="1.1"/>
<text x="402.3" y="206.2" font-size="6.6" text-anchor="middle">PTCH1</text>
<rect x="453.75" y="250.89" width="6.9" height="4.61" fill="#cf1033"/>
<line x1="457.2" y1="250.38" x2="457.2" y2="250.89" stroke="#1a1a1a" stroke-width="1"/>
<line x1="455.05" y1="250.38" x2="459.35" y2="250.38" stroke="#1a1a1a" stroke-width="1"/>
<rect x="463.45" y="235" width="6.9" height="20.5" fill="#14508a"/>
<line x1="466.9" y1="233.87" x2="466.9" y2="235" stroke="#1a1a1a" stroke-width="1"/>
<line x1="464.75" y1="233.87" x2="469.05" y2="233.87" stroke="#1a1a1a" stroke-width="1"/>
<rect x="473.05" y="227.31" width="6.9" height="28.19" fill="#3cb44b"/>
<line x1="476.5" y1="225.01" x2="476.5" y2="227.31" stroke="#1a1a1a" stroke-width="1"/>
<line x1="474.35" y1="225.01" x2="478.65" y2="225.01" stroke="#1a1a1a" stroke-width="1"/>
<rect x="483.05" y="229.88" width="6.9" height="25.62" fill="#5a2672"/>
<line x1="486.5" y1="228.34" x2="486.5" y2="229.88" stroke="#1a1a1a" stroke-width="1"/>
<line x1="484.35" y1="228.34" x2="488.65" y2="228.34" stroke="#1a1a1a" stroke-width="1"/>
<line x1="452.3" y1="214" x2="452.3" y2="256.15" stroke="#111" stroke-width="1.3"/>
<line x1="451.65" y1="255.5" x2="491.5" y2="255.5" stroke="#111" stroke-width="1.3"/>
<line x1="449.3" y1="255.5" x2="452.3" y2="255.5" stroke="#111" stroke-width="1.1"/>
<text x="446.3" y="257.88" font-size="6.6" text-anchor="end">0</text>
<line x1="449.3" y1="245.25" x2="452.3" y2="245.25" stroke="#111" stroke-width="1.1"/>
<text x="446.3" y="247.63" font-size="6.6" text-anchor="end">2</text>
<line x1="449.3" y1="235" x2="452.3" y2="235" stroke="#111" stroke-width="1.1"/>
<text x="446.3" y="237.38" font-size="6.6" text-anchor="end">4</text>
<line x1="449.3" y1="224.75" x2="452.3" y2="224.75" stroke="#111" stroke-width="1.1"/>
<text x="446.3" y="227.13" font-size="6.6" text-anchor="end">6</text>
<line x1="449.3" y1="214.5" x2="452.3" y2="214.5" stroke="#111" stroke-width="1.1"/>
<text x="446.3" y="216.88" font-size="6.6" text-anchor="end">8</text>
<line x1="457.2" y1="255.5" x2="457.2" y2="258.1" stroke="#111" stroke-width="1.1"/>
<line x1="466.9" y1="255.5" x2="466.9" y2="258.1" stroke="#111" stroke-width="1.1"/>
<line x1="476.5" y1="255.5" x2="476.5" y2="258.1" stroke="#111" stroke-width="1.1"/>
<line x1="486.5" y1="255.5" x2="486.5" y2="258.1" stroke="#111" stroke-width="1.1"/>
<text x="471.9" y="206.2" font-size="6.6" text-anchor="middle">MYC</text>
<defs><filter id="texB" x="-10%" y="-10%" width="120%" height="120%"><feTurbulence type="fractalNoise" baseFrequency="0.2" numOctaves="2" seed="4" result="n"/><feColorMatrix in="n" type="saturate" values="0" result="g"/><feComposite in="SourceGraphic" in2="g" operator="arithmetic" k1="1.3" k2="0.35" k3="0" k4="0" result="m"/><feComposite in="m" in2="SourceGraphic" operator="in" result="c"/><feGaussianBlur in="c" stdDeviation="0.35"/></filter><filter id="speck" x="-10%" y="-10%" width="120%" height="120%"><feTurbulence type="fractalNoise" baseFrequency="0.42" numOctaves="1" seed="7" result="n0"/><feGaussianBlur in="n0" stdDeviation="0.7" result="n"/><feColorMatrix in="n" type="matrix" values="0 0 0 0 0  0 0 0 0 0  0 0 0 0 0  14 0 0 0 -5.7" result="a"/><feComposite in="SourceGraphic" in2="a" operator="in" result="s"/><feGaussianBlur in="s" stdDeviation="0.3"/></filter><filter id="texR" x="-10%" y="-10%" width="120%" height="120%"><feTurbulence type="fractalNoise" baseFrequency="0.18" numOctaves="2" seed="9" result="n"/><feColorMatrix in="n" type="saturate" values="0" result="g"/><feComposite in="SourceGraphic" in2="g" operator="arithmetic" k1="1.2" k2="0.4" k3="0" k4="0" result="m"/><feComposite in="m" in2="SourceGraphic" operator="in" result="c"/><feGaussianBlur in="c" stdDeviation="0.35"/></filter><filter id="bRI1" x="-50%" y="-50%" width="200%" height="200%"><feGaussianBlur stdDeviation="1.5"/></filter><filter id="bRI2" x="-50%" y="-50%" width="200%" height="200%"><feGaussianBlur stdDeviation="2.5"/></filter><filter id="bRJ1" x="-50%" y="-50%" width="200%" height="200%"><feGaussianBlur stdDeviation="3.0"/></filter><filter id="bRJ2" x="-50%" y="-50%" width="200%" height="200%"><feGaussianBlur stdDeviation="2.2"/></filter><filter id="bRJ3" x="-50%" y="-50%" width="200%" height="200%"><feGaussianBlur stdDeviation="2.0"/></filter></defs>
<text x="5.8" y="282.4" font-size="9.6" font-weight="bold" fill="#000">I</text>
<text x="101.7" y="282.5" font-size="9.2" text-anchor="middle" textLength="42.2" lengthAdjust="spacingAndGlyphs">RPMI8226</text>
<line x1="15.8" y1="286.5" x2="187" y2="286.5" stroke="#111" stroke-width="1.1"/>
<text x="226.4" y="282.4" font-size="9.4" font-weight="bold" fill="#000">J</text>
<text x="326.4" y="282.5" font-size="9.2" text-anchor="middle" textLength="71.4" lengthAdjust="spacingAndGlyphs">RPMI8226-AL-KD</text>
<line x1="240.2" y1="286.5" x2="412" y2="286.5" stroke="#111" stroke-width="1.1"/>
<text x="42.1" y="296.0" font-size="7.2" text-anchor="middle" textLength="35.2" lengthAdjust="spacingAndGlyphs"><tspan class="med">DAPI</tspan><tspan style="stroke-width:0.02px" fill="#3a3a3a">(blue)</tspan></text>
<text x="101.6" y="296.0" font-size="7.2" text-anchor="middle" textLength="29.4" lengthAdjust="spacingAndGlyphs"><tspan class="med">Gli1</tspan><tspan style="stroke-width:0.02px" fill="#3a3a3a">(red)</tspan></text>
<text x="160.9" y="296.0" font-size="7.2" text-anchor="middle" textLength="20.8" lengthAdjust="spacingAndGlyphs"><tspan class="med">Merge</tspan><tspan style="stroke-width:0.02px" fill="#3a3a3a"></tspan></text>
<text x="263.4" y="296.0" font-size="7.2" text-anchor="middle" textLength="35.2" lengthAdjust="spacingAndGlyphs"><tspan class="med">DAPI</tspan><tspan style="stroke-width:0.02px" fill="#3a3a3a">(blue)</tspan></text>
<text x="322.7" y="296.0" font-size="7.2" text-anchor="middle" textLength="29.4" lengthAdjust="spacingAndGlyphs"><tspan class="med">Gli1</tspan><tspan style="stroke-width:0.02px" fill="#3a3a3a">(red)</tspan></text>
<text x="382.4" y="296.0" font-size="7.2" text-anchor="middle" textLength="20.8" lengthAdjust="spacingAndGlyphs"><tspan class="med">Merge</tspan><tspan style="stroke-width:0.02px" fill="#3a3a3a"></tspan></text>
<svg x="13.4" y="298.6" width="57.5" height="57.3" overflow="hidden">
<rect x="0" y="0" width="57.5" height="57.3" fill="#000"/>
<g transform="translate(0 0) scale(1 1)"><g filter="url(#texB)"><path d="M27.40 10.80 C28.53 9.95 31.58 9.60 33.10 9.70 C34.62 9.80 35.73 10.55 36.50 11.40 C37.27 12.25 36.75 14.23 37.70 14.80 C38.65 15.37 40.50 14.42 42.20 14.80 C43.90 15.18 46.47 15.77 47.90 17.10 C49.33 18.43 50.42 20.70 50.80 22.80 C51.18 24.90 51.05 27.88 50.20 29.70 C49.35 31.52 47.40 32.75 45.70 33.70 C44.00 34.65 40.77 34.17 40.00 35.40 C39.23 36.63 41.48 39.38 41.10 41.10 C40.72 42.82 39.60 44.57 37.70 45.70 C35.80 46.83 32.57 47.43 29.70 47.90 C26.83 48.37 22.98 48.87 20.50 48.50 C18.02 48.13 16.12 47.12 14.80 45.70 C13.48 44.28 13.27 41.92 12.60 40.00 C11.93 38.08 11.57 36.30 10.80 34.20 C10.03 32.10 8.08 29.10 8.00 27.40 C7.92 25.70 8.78 25.23 10.30 24.00 C11.82 22.77 15.02 20.38 17.10 20.00 C19.18 19.62 21.27 22.57 22.80 21.70 C24.33 20.83 25.53 16.62 26.30 14.80 C27.07 12.98 26.27 11.65 27.40 10.80Z" fill="#0000e6" filter="url(#b1)"/><path d="M27.40 10.80 C28.53 9.95 31.58 9.60 33.10 9.70 C34.62 9.80 35.73 10.55 36.50 11.40 C37.27 12.25 36.75 14.23 37.70 14.80 C38.65 15.37 40.50 14.42 42.20 14.80 C43.90 15.18 46.47 15.77 47.90 17.10 C49.33 18.43 50.42 20.70 50.80 22.80 C51.18 24.90 51.05 27.88 50.20 29.70 C49.35 31.52 47.40 32.75 45.70 33.70 C44.00 34.65 40.77 34.17 40.00 35.40 C39.23 36.63 41.48 39.38 41.10 41.10 C40.72 42.82 39.60 44.57 37.70 45.70 C35.80 46.83 32.57 47.43 29.70 47.90 C26.83 48.37 22.98 48.87 20.50 48.50 C18.02 48.13 16.12 47.12 14.80 45.70 C13.48 44.28 13.27 41.92 12.60 40.00 C11.93 38.08 11.57 36.30 10.80 34.20 C10.03 32.10 8.08 29.10 8.00 27.40 C7.92 25.70 8.78 25.23 10.30 24.00 C11.82 22.77 15.02 20.38 17.10 20.00 C19.18 19.62 21.27 22.57 22.80 21.70 C24.33 20.83 25.53 16.62 26.30 14.80 C27.07 12.98 26.27 11.65 27.40 10.80Z" fill="none" stroke="#1010ff" stroke-width="1.6" opacity="0.8" filter="url(#b1)"/><ellipse cx="17" cy="32" rx="5" ry="4" fill="#000010" opacity="0.6" filter="url(#b1)"/><ellipse cx="18.5" cy="41" rx="4" ry="3" fill="#000010" opacity="0.55" filter="url(#b1)"/><ellipse cx="27" cy="28" rx="4" ry="3" fill="#000010" opacity="0.5" filter="url(#b1)"/><ellipse cx="40" cy="22" rx="3" ry="3" fill="#000010" opacity="0.35" filter="url(#b1)"/><ellipse cx="23" cy="37" rx="3" ry="2.5" fill="#000010" opacity="0.45" filter="url(#b1)"/><ellipse cx="33" cy="38" rx="3" ry="3" fill="#000010" opacity="0.35" filter="url(#b1)"/></g></g>
</svg>
<text x="68.3" y="350.5" font-size="5.4" text-anchor="end" fill="#eee" class="w" textLength="11.2" lengthAdjust="spacingAndGlyphs">5μm</text>
<rect x="58" y="352.7" width="10.2" height="1.4" fill="#ddd"/>
<svg x="72.9" y="298.6" width="57.5" height="57.3" overflow="hidden">
<rect x="0" y="0" width="57.5" height="57.3" fill="#000"/>
<clipPath id="clip0"><path d="M26.30 5.10 C28.97 4.63 30.82 5.25 33.10 6.30 C35.38 7.35 37.72 10.27 40.00 11.40 C42.28 12.53 44.82 11.95 46.80 13.10 C48.78 14.25 50.75 16.30 51.90 18.30 C53.05 20.30 53.60 22.63 53.70 25.10 C53.80 27.57 53.47 30.62 52.50 33.10 C51.53 35.58 49.80 38.00 47.90 40.00 C46.00 42.00 43.75 43.68 41.10 45.10 C38.45 46.52 35.23 47.83 32.00 48.50 C28.77 49.17 24.75 49.38 21.70 49.10 C18.65 48.82 15.60 48.13 13.70 46.80 C11.80 45.47 11.63 43.20 10.30 41.10 C8.97 39.00 6.85 36.48 5.70 34.20 C4.55 31.92 3.50 29.87 3.40 27.40 C3.30 24.93 3.95 21.68 5.10 19.40 C6.25 17.12 8.30 15.42 10.30 13.70 C12.30 11.98 14.43 10.53 17.10 9.10 C19.77 7.67 23.63 5.57 26.30 5.10Z"/></clipPath><g transform="translate(0 0) scale(1 1)"><g filter="url(#texR)"><g filter="url(#b1)"><path d="M26.30 5.10 C28.97 4.63 30.82 5.25 33.10 6.30 C35.38 7.35 37.72 10.27 40.00 11.40 C42.28 12.53 44.82 11.95 46.80 13.10 C48.78 14.25 50.75 16.30 51.90 18.30 C53.05 20.30 53.60 22.63 53.70 25.10 C53.80 27.57 53.47 30.62 52.50 33.10 C51.53 35.58 49.80 38.00 47.90 40.00 C46.00 42.00 43.75 43.68 41.10 45.10 C38.45 46.52 35.23 47.83 32.00 48.50 C28.77 49.17 24.75 49.38 21.70 49.10 C18.65 48.82 15.60 48.13 13.70 46.80 C11.80 45.47 11.63 43.20 10.30 41.10 C8.97 39.00 6.85 36.48 5.70 34.20 C4.55 31.92 3.50 29.87 3.40 27.40 C3.30 24.93 3.95 21.68 5.10 19.40 C6.25 17.12 8.30 15.42 10.30 13.70 C12.30 11.98 14.43 10.53 17.10 9.10 C19.77 7.67 23.63 5.57 26.30 5.10Z" fill="#480000"/><g clip-path="url(#clip0)"><path d="M26.30 5.10 C28.97 4.63 30.82 5.25 33.10 6.30 C35.38 7.35 37.72 10.27 40.00 11.40 C42.28 12.53 44.82 11.95 46.80 13.10 C48.78 14.25 50.75 16.30 51.90 18.30 C53.05 20.30 53.60 22.63 53.70 25.10 C53.80 27.57 53.47 30.62 52.50 33.10 C51.53 35.58 49.80 38.00 47.90 40.00 C46.00 42.00 43.75 43.68 41.10 45.10 C38.45 46.52 35.23 47.83 32.00 48.50 C28.77 49.17 24.75 49.38 21.70 49.10 C18.65 48.82 15.60 48.13 13.70 46.80 C11.80 45.47 11.63 43.20 10.30 41.10 C8.97 39.00 6.85 36.48 5.70 34.20 C4.55 31.92 3.50 29.87 3.40 27.40 C3.30 24.93 3.95 21.68 5.10 19.40 C6.25 17.12 8.30 15.42 10.30 13.70 C12.30 11.98 14.43 10.53 17.10 9.10 C19.77 7.67 23.63 5.57 26.30 5.10Z" fill="none" stroke="#b80000" stroke-width="8.8" filter="url(#bRI1)"/><ellipse cx="18" cy="29" rx="5" ry="5" fill="#000" opacity="0.45" filter="url(#b15)"/><ellipse cx="36" cy="35" rx="5" ry="4" fill="#000" opacity="0.4" filter="url(#b15)"/><ellipse cx="30" cy="20" rx="4" ry="3" fill="#000" opacity="0.3" filter="url(#b15)"/><ellipse cx="22" cy="40" rx="4" ry="3" fill="#000" opacity="0.4" filter="url(#b15)"/></g></g></g></g>
</svg>
<text x="127.8" y="350.5" font-size="5.4" text-anchor="end" fill="#eee" class="w" textLength="11.2" lengthAdjust="spacingAndGlyphs">5μm</text>
<rect x="117.5" y="352.7" width="10.2" height="1.4" fill="#ddd"/>
<svg x="132.2" y="298.6" width="57.5" height="57.3" overflow="hidden">
<rect x="0" y="0" width="57.5" height="57.3" fill="#101010"/>
<rect x="0.5" y="0.5" width="56.5" height="56.3" fill="none" stroke="#000" stroke-width="1"/>
<g style="isolation:isolate">
<clipPath id="clip1"><path d="M26.30 5.10 C28.97 4.63 30.82 5.25 33.10 6.30 C35.38 7.35 37.72 10.27 40.00 11.40 C42.28 12.53 44.82 11.95 46.80 13.10 C48.78 14.25 50.75 16.30 51.90 18.30 C53.05 20.30 53.60 22.63 53.70 25.10 C53.80 27.57 53.47 30.62 52.50 33.10 C51.53 35.58 49.80 38.00 47.90 40.00 C46.00 42.00 43.75 43.68 41.10 45.10 C38.45 46.52 35.23 47.83 32.00 48.50 C28.77 49.17 24.75 49.38 21.70 49.10 C18.65 48.82 15.60 48.13 13.70 46.80 C11.80 45.47 11.63 43.20 10.30 41.10 C8.97 39.00 6.85 36.48 5.70 34.20 C4.55 31.92 3.50 29.87 3.40 27.40 C3.30 24.93 3.95 21.68 5.10 19.40 C6.25 17.12 8.30 15.42 10.30 13.70 C12.30 11.98 14.43 10.53 17.10 9.10 C19.77 7.67 23.63 5.57 26.30 5.10Z"/></clipPath><g transform="translate(0 0) scale(1 1)"><g filter="url(#texR)"><g filter="url(#b1)"><path d="M26.30 5.10 C28.97 4.63 30.82 5.25 33.10 6.30 C35.38 7.35 37.72 10.27 40.00 11.40 C42.28 12.53 44.82 11.95 46.80 13.10 C48.78 14.25 50.75 16.30 51.90 18.30 C53.05 20.30 53.60 22.63 53.70 25.10 C53.80 27.57 53.47 30.62 52.50 33.10 C51.53 35.58 49.80 38.00 47.90 40.00 C46.00 42.00 43.75 43.68 41.10 45.10 C38.45 46.52 35.23 47.83 32.00 48.50 C28.77 49.17 24.75 49.38 21.70 49.10 C18.65 48.82 15.60 48.13 13.70 46.80 C11.80 45.47 11.63 43.20 10.30 41.10 C8.97 39.00 6.85 36.48 5.70 34.20 C4.55 31.92 3.50 29.87 3.40 27.40 C3.30 24.93 3.95 21.68 5.10 19.40 C6.25 17.12 8.30 15.42 10.30 13.70 C12.30 11.98 14.43 10.53 17.10 9.10 C19.77 7.67 23.63 5.57 26.30 5.10Z" fill="#480000"/><g clip-path="url(#clip1)"><path d="M26.30 5.10 C28.97 4.63 30.82 5.25 33.10 6.30 C35.38 7.35 37.72 10.27 40.00 11.40 C42.28 12.53 44.82 11.95 46.80 13.10 C48.78 14.25 50.75 16.30 51.90 18.30 C53.05 20.30 53.60 22.63 53.70 25.10 C53.80 27.57 53.47 30.62 52.50 33.10 C51.53 35.58 49.80 38.00 47.90 40.00 C46.00 42.00 43.75 43.68 41.10 45.10 C38.45 46.52 35.23 47.83 32.00 48.50 C28.77 49.17 24.75 49.38 21.70 49.10 C18.65 48.82 15.60 48.13 13.70 46.80 C11.80 45.47 11.63 43.20 10.30 41.10 C8.97 39.00 6.85 36.48 5.70 34.20 C4.55 31.92 3.50 29.87 3.40 27.40 C3.30 24.93 3.95 21.68 5.10 19.40 C6.25 17.12 8.30 15.42 10.30 13.70 C12.30 11.98 14.43 10.53 17.10 9.10 C19.77 7.67 23.63 5.57 26.30 5.10Z" fill="none" stroke="#b80000" stroke-width="8.8" filter="url(#bRI1)"/><ellipse cx="18" cy="29" rx="5" ry="5" fill="#000" opacity="0.45" filter="url(#b15)"/><ellipse cx="36" cy="35" rx="5" ry="4" fill="#000" opacity="0.4" filter="url(#b15)"/><ellipse cx="30" cy="20" rx="4" ry="3" fill="#000" opacity="0.3" filter="url(#b15)"/><ellipse cx="22" cy="40" rx="4" ry="3" fill="#000" opacity="0.4" filter="url(#b15)"/></g></g></g></g>
<g transform="translate(0 0) scale(1 1)" style="mix-blend-mode:screen"><g filter="url(#texB)"><path d="M27.40 10.80 C28.53 9.95 31.58 9.60 33.10 9.70 C34.62 9.80 35.73 10.55 36.50 11.40 C37.27 12.25 36.75 14.23 37.70 14.80 C38.65 15.37 40.50 14.42 42.20 14.80 C43.90 15.18 46.47 15.77 47.90 17.10 C49.33 18.43 50.42 20.70 50.80 22.80 C51.18 24.90 51.05 27.88 50.20 29.70 C49.35 31.52 47.40 32.75 45.70 33.70 C44.00 34.65 40.77 34.17 40.00 35.40 C39.23 36.63 41.48 39.38 41.10 41.10 C40.72 42.82 39.60 44.57 37.70 45.70 C35.80 46.83 32.57 47.43 29.70 47.90 C26.83 48.37 22.98 48.87 20.50 48.50 C18.02 48.13 16.12 47.12 14.80 45.70 C13.48 44.28 13.27 41.92 12.60 40.00 C11.93 38.08 11.57 36.30 10.80 34.20 C10.03 32.10 8.08 29.10 8.00 27.40 C7.92 25.70 8.78 25.23 10.30 24.00 C11.82 22.77 15.02 20.38 17.10 20.00 C19.18 19.62 21.27 22.57 22.80 21.70 C24.33 20.83 25.53 16.62 26.30 14.80 C27.07 12.98 26.27 11.65 27.40 10.80Z" fill="#0000e6" filter="url(#b1)"/><path d="M27.40 10.80 C28.53 9.95 31.58 9.60 33.10 9.70 C34.62 9.80 35.73 10.55 36.50 11.40 C37.27 12.25 36.75 14.23 37.70 14.80 C38.65 15.37 40.50 14.42 42.20 14.80 C43.90 15.18 46.47 15.77 47.90 17.10 C49.33 18.43 50.42 20.70 50.80 22.80 C51.18 24.90 51.05 27.88 50.20 29.70 C49.35 31.52 47.40 32.75 45.70 33.70 C44.00 34.65 40.77 34.17 40.00 35.40 C39.23 36.63 41.48 39.38 41.10 41.10 C40.72 42.82 39.60 44.57 37.70 45.70 C35.80 46.83 32.57 47.43 29.70 47.90 C26.83 48.37 22.98 48.87 20.50 48.50 C18.02 48.13 16.12 47.12 14.80 45.70 C13.48 44.28 13.27 41.92 12.60 40.00 C11.93 38.08 11.57 36.30 10.80 34.20 C10.03 32.10 8.08 29.10 8.00 27.40 C7.92 25.70 8.78 25.23 10.30 24.00 C11.82 22.77 15.02 20.38 17.10 20.00 C19.18 19.62 21.27 22.57 22.80 21.70 C24.33 20.83 25.53 16.62 26.30 14.80 C27.07 12.98 26.27 11.65 27.40 10.80Z" fill="none" stroke="#1010ff" stroke-width="1.6" opacity="0.8" filter="url(#b1)"/><ellipse cx="17" cy="32" rx="5" ry="4" fill="#000010" opacity="0.6" filter="url(#b1)"/><ellipse cx="18.5" cy="41" rx="4" ry="3" fill="#000010" opacity="0.55" filter="url(#b1)"/><ellipse cx="27" cy="28" rx="4" ry="3" fill="#000010" opacity="0.5" filter="url(#b1)"/><ellipse cx="40" cy="22" rx="3" ry="3" fill="#000010" opacity="0.35" filter="url(#b1)"/><ellipse cx="23" cy="37" rx="3" ry="2.5" fill="#000010" opacity="0.45" filter="url(#b1)"/><ellipse cx="33" cy="38" rx="3" ry="3" fill="#000010" opacity="0.35" filter="url(#b1)"/></g></g>
</g>
</svg>
<text x="187.1" y="350.5" font-size="5.4" text-anchor="end" fill="#eee" class="w" textLength="11.2" lengthAdjust="spacingAndGlyphs">5μm</text>
<rect x="176.8" y="352.7" width="10.2" height="1.4" fill="#ddd"/>
<svg x="13.4" y="357.9" width="57.5" height="57.3" overflow="hidden">
<rect x="0" y="0" width="57.5" height="57.3" fill="#000"/>
<g transform="translate(0 0) scale(1 1)"><g filter="url(#texB)"><path d="M22.80 10.80 C24.62 10.42 27.22 11.10 29.70 11.40 C32.18 11.70 35.42 11.65 37.70 12.60 C39.98 13.55 41.88 15.20 43.40 17.10 C44.92 19.00 45.95 22.18 46.80 24.00 C47.65 25.82 48.68 26.48 48.50 28.00 C48.32 29.52 47.32 31.48 45.70 33.10 C44.08 34.72 40.90 36.65 38.80 37.70 C36.70 38.75 34.62 38.45 33.10 39.40 C31.58 40.35 30.75 43.40 29.70 43.40 C28.65 43.40 28.33 40.17 26.80 39.40 C25.27 38.63 22.58 39.28 20.50 38.80 C18.42 38.32 15.72 37.63 14.30 36.50 C12.88 35.37 12.10 33.90 12.00 32.00 C11.90 30.10 13.23 27.38 13.70 25.10 C14.17 22.82 13.95 20.20 14.80 18.30 C15.65 16.40 17.47 14.95 18.80 13.70 C20.13 12.45 20.98 11.18 22.80 10.80Z" fill="#0808f4" filter="url(#b1)"/><path d="M22.80 10.80 C24.62 10.42 27.22 11.10 29.70 11.40 C32.18 11.70 35.42 11.65 37.70 12.60 C39.98 13.55 41.88 15.20 43.40 17.10 C44.92 19.00 45.95 22.18 46.80 24.00 C47.65 25.82 48.68 26.48 48.50 28.00 C48.32 29.52 47.32 31.48 45.70 33.10 C44.08 34.72 40.90 36.65 38.80 37.70 C36.70 38.75 34.62 38.45 33.10 39.40 C31.58 40.35 30.75 43.40 29.70 43.40 C28.65 43.40 28.33 40.17 26.80 39.40 C25.27 38.63 22.58 39.28 20.50 38.80 C18.42 38.32 15.72 37.63 14.30 36.50 C12.88 35.37 12.10 33.90 12.00 32.00 C11.90 30.10 13.23 27.38 13.70 25.10 C14.17 22.82 13.95 20.20 14.80 18.30 C15.65 16.40 17.47 14.95 18.80 13.70 C20.13 12.45 20.98 11.18 22.80 10.80Z" fill="none" stroke="#1414ff" stroke-width="1.2" opacity="0.8" filter="url(#b1)"/><ellipse cx="26" cy="28" rx="3" ry="5" fill="#000010" opacity="0.5" filter="url(#b1)"/><ellipse cx="20" cy="26" rx="2" ry="2" fill="#000010" opacity="0.35" filter="url(#b1)"/><ellipse cx="36" cy="30" rx="3" ry="2" fill="#000010" opacity="0.35" filter="url(#b1)"/><ellipse cx="30" cy="18" rx="2" ry="2" fill="#000010" opacity="0.3" filter="url(#b1)"/></g></g>
</svg>
<text x="68.3" y="409.8" font-size="5.4" text-anchor="end" fill="#eee" class="w" textLength="11.2" lengthAdjust="spacingAndGlyphs">5μm</text>
<rect x="58" y="412" width="10.2" height="1.4" fill="#ddd"/>
<svg x="72.9" y="357.9" width="57.5" height="57.3" overflow="hidden">
<rect x="0" y="0" width="57.5" height="57.3" fill="#000"/>
<clipPath id="clip2"><path d="M22.80 8.60 C25.83 7.65 31.15 7.53 34.20 8.00 C37.25 8.47 38.82 9.50 41.10 11.40 C43.38 13.30 46.00 16.92 47.90 19.40 C49.80 21.88 51.53 23.83 52.50 26.30 C53.47 28.77 54.47 32.30 53.70 34.20 C52.93 36.10 49.62 35.78 47.90 37.70 C46.18 39.62 45.30 43.23 43.40 45.70 C41.50 48.17 39.35 51.17 36.50 52.50 C33.65 53.83 29.53 54.27 26.30 53.70 C23.07 53.13 19.58 51.02 17.10 49.10 C14.62 47.18 12.53 44.68 11.40 42.20 C10.27 39.72 10.30 37.43 10.30 34.20 C10.30 30.97 10.45 26.22 11.40 22.80 C12.35 19.38 14.10 16.07 16.00 13.70 C17.90 11.33 19.77 9.55 22.80 8.60Z"/></clipPath><g transform="translate(0 0) scale(1 1)"><g filter="url(#texR)"><g filter="url(#b1)"><path d="M22.80 8.60 C25.83 7.65 31.15 7.53 34.20 8.00 C37.25 8.47 38.82 9.50 41.10 11.40 C43.38 13.30 46.00 16.92 47.90 19.40 C49.80 21.88 51.53 23.83 52.50 26.30 C53.47 28.77 54.47 32.30 53.70 34.20 C52.93 36.10 49.62 35.78 47.90 37.70 C46.18 39.62 45.30 43.23 43.40 45.70 C41.50 48.17 39.35 51.17 36.50 52.50 C33.65 53.83 29.53 54.27 26.30 53.70 C23.07 53.13 19.58 51.02 17.10 49.10 C14.62 47.18 12.53 44.68 11.40 42.20 C10.27 39.72 10.30 37.43 10.30 34.20 C10.30 30.97 10.45 26.22 11.40 22.80 C12.35 19.38 14.10 16.07 16.00 13.70 C17.90 11.33 19.77 9.55 22.80 8.60Z" fill="#780000"/><g clip-path="url(#clip2)"><path d="M22.80 8.60 C25.83 7.65 31.15 7.53 34.20 8.00 C37.25 8.47 38.82 9.50 41.10 11.40 C43.38 13.30 46.00 16.92 47.90 19.40 C49.80 21.88 51.53 23.83 52.50 26.30 C53.47 28.77 54.47 32.30 53.70 34.20 C52.93 36.10 49.62 35.78 47.90 37.70 C46.18 39.62 45.30 43.23 43.40 45.70 C41.50 48.17 39.35 51.17 36.50 52.50 C33.65 53.83 29.53 54.27 26.30 53.70 C23.07 53.13 19.58 51.02 17.10 49.10 C14.62 47.18 12.53 44.68 11.40 42.20 C10.27 39.72 10.30 37.43 10.30 34.20 C10.30 30.97 10.45 26.22 11.40 22.80 C12.35 19.38 14.10 16.07 16.00 13.70 C17.90 11.33 19.77 9.55 22.80 8.60Z" fill="none" stroke="#a80000" stroke-width="18.0" filter="url(#bRI2)"/><ellipse cx="28.5" cy="26" rx="5" ry="6" fill="#000" opacity="0.5" filter="url(#b15)"/><ellipse cx="18" cy="40" rx="1.5" ry="1.5" fill="#000" opacity="0.5" filter="url(#b15)"/></g></g></g></g>
</svg>
<text x="127.8" y="409.8" font-size="5.4" text-anchor="end" fill="#eee" class="w" textLength="11.2" lengthAdjust="spacingAndGlyphs">5μm</text>
<rect x="117.5" y="412" width="10.2" height="1.4" fill="#ddd"/>
<svg x="132.2" y="357.9" width="57.5" height="57.3" overflow="hidden">
<rect x="0" y="0" width="57.5" height="57.3" fill="#000"/>
<g style="isolation:isolate">
<clipPath id="clip3"><path d="M22.80 8.60 C25.83 7.65 31.15 7.53 34.20 8.00 C37.25 8.47 38.82 9.50 41.10 11.40 C43.38 13.30 46.00 16.92 47.90 19.40 C49.80 21.88 51.53 23.83 52.50 26.30 C53.47 28.77 54.47 32.30 53.70 34.20 C52.93 36.10 49.62 35.78 47.90 37.70 C46.18 39.62 45.30 43.23 43.40 45.70 C41.50 48.17 39.35 51.17 36.50 52.50 C33.65 53.83 29.53 54.27 26.30 53.70 C23.07 53.13 19.58 51.02 17.10 49.10 C14.62 47.18 12.53 44.68 11.40 42.20 C10.27 39.72 10.30 37.43 10.30 34.20 C10.30 30.97 10.45 26.22 11.40 22.80 C12.35 19.38 14.10 16.07 16.00 13.70 C17.90 11.33 19.77 9.55 22.80 8.60Z"/></clipPath><g transform="translate(0 0) scale(1 1)"><g filter="url(#texR)"><g filter="url(#b1)"><path d="M22.80 8.60 C25.83 7.65 31.15 7.53 34.20 8.00 C37.25 8.47 38.82 9.50 41.10 11.40 C43.38 13.30 46.00 16.92 47.90 19.40 C49.80 21.88 51.53 23.83 52.50 26.30 C53.47 28.77 54.47 32.30 53.70 34.20 C52.93 36.10 49.62 35.78 47.90 37.70 C46.18 39.62 45.30 43.23 43.40 45.70 C41.50 48.17 39.35 51.17 36.50 52.50 C33.65 53.83 29.53 54.27 26.30 53.70 C23.07 53.13 19.58 51.02 17.10 49.10 C14.62 47.18 12.53 44.68 11.40 42.20 C10.27 39.72 10.30 37.43 10.30 34.20 C10.30 30.97 10.45 26.22 11.40 22.80 C12.35 19.38 14.10 16.07 16.00 13.70 C17.90 11.33 19.77 9.55 22.80 8.60Z" fill="#780000"/><g clip-path="url(#clip3)"><path d="M22.80 8.60 C25.83 7.65 31.15 7.53 34.20 8.00 C37.25 8.47 38.82 9.50 41.10 11.40 C43.38 13.30 46.00 16.92 47.90 19.40 C49.80 21.88 51.53 23.83 52.50 26.30 C53.47 28.77 54.47 32.30 53.70 34.20 C52.93 36.10 49.62 35.78 47.90 37.70 C46.18 39.62 45.30 43.23 43.40 45.70 C41.50 48.17 39.35 51.17 36.50 52.50 C33.65 53.83 29.53 54.27 26.30 53.70 C23.07 53.13 19.58 51.02 17.10 49.10 C14.62 47.18 12.53 44.68 11.40 42.20 C10.27 39.72 10.30 37.43 10.30 34.20 C10.30 30.97 10.45 26.22 11.40 22.80 C12.35 19.38 14.10 16.07 16.00 13.70 C17.90 11.33 19.77 9.55 22.80 8.60Z" fill="none" stroke="#a80000" stroke-width="18.0" filter="url(#bRI2)"/><ellipse cx="28.5" cy="26" rx="5" ry="6" fill="#000" opacity="0.5" filter="url(#b15)"/><ellipse cx="18" cy="40" rx="1.5" ry="1.5" fill="#000" opacity="0.5" filter="url(#b15)"/></g></g></g></g>
<g transform="translate(0 0) scale(1 1)" style="mix-blend-mode:screen"><g filter="url(#texB)"><path d="M22.80 10.80 C24.62 10.42 27.22 11.10 29.70 11.40 C32.18 11.70 35.42 11.65 37.70 12.60 C39.98 13.55 41.88 15.20 43.40 17.10 C44.92 19.00 45.95 22.18 46.80 24.00 C47.65 25.82 48.68 26.48 48.50 28.00 C48.32 29.52 47.32 31.48 45.70 33.10 C44.08 34.72 40.90 36.65 38.80 37.70 C36.70 38.75 34.62 38.45 33.10 39.40 C31.58 40.35 30.75 43.40 29.70 43.40 C28.65 43.40 28.33 40.17 26.80 39.40 C25.27 38.63 22.58 39.28 20.50 38.80 C18.42 38.32 15.72 37.63 14.30 36.50 C12.88 35.37 12.10 33.90 12.00 32.00 C11.90 30.10 13.23 27.38 13.70 25.10 C14.17 22.82 13.95 20.20 14.80 18.30 C15.65 16.40 17.47 14.95 18.80 13.70 C20.13 12.45 20.98 11.18 22.80 10.80Z" fill="#0808f4" filter="url(#b1)"/><path d="M22.80 10.80 C24.62 10.42 27.22 11.10 29.70 11.40 C32.18 11.70 35.42 11.65 37.70 12.60 C39.98 13.55 41.88 15.20 43.40 17.10 C44.92 19.00 45.95 22.18 46.80 24.00 C47.65 25.82 48.68 26.48 48.50 28.00 C48.32 29.52 47.32 31.48 45.70 33.10 C44.08 34.72 40.90 36.65 38.80 37.70 C36.70 38.75 34.62 38.45 33.10 39.40 C31.58 40.35 30.75 43.40 29.70 43.40 C28.65 43.40 28.33 40.17 26.80 39.40 C25.27 38.63 22.58 39.28 20.50 38.80 C18.42 38.32 15.72 37.63 14.30 36.50 C12.88 35.37 12.10 33.90 12.00 32.00 C11.90 30.10 13.23 27.38 13.70 25.10 C14.17 22.82 13.95 20.20 14.80 18.30 C15.65 16.40 17.47 14.95 18.80 13.70 C20.13 12.45 20.98 11.18 22.80 10.80Z" fill="none" stroke="#1414ff" stroke-width="1.2" opacity="0.8" filter="url(#b1)"/><ellipse cx="26" cy="28" rx="3" ry="5" fill="#000010" opacity="0.5" filter="url(#b1)"/><ellipse cx="20" cy="26" rx="2" ry="2" fill="#000010" opacity="0.35" filter="url(#b1)"/><ellipse cx="36" cy="30" rx="3" ry="2" fill="#000010" opacity="0.35" filter="url(#b1)"/><ellipse cx="30" cy="18" rx="2" ry="2" fill="#000010" opacity="0.3" filter="url(#b1)"/></g></g>
</g>
</svg>
<text x="187.1" y="409.8" font-size="5.4" text-anchor="end" fill="#eee" class="w" textLength="11.2" lengthAdjust="spacingAndGlyphs">5μm</text>
<rect x="176.8" y="412" width="10.2" height="1.4" fill="#ddd"/>
<svg x="234.7" y="299.1" width="57.3" height="57.1" overflow="hidden">
<rect x="0" y="0" width="57.3" height="57.1" fill="#000"/>
<g transform="translate(0 0) scale(1 1)"><g filter="url(#texB)"><g filter="url(#speck)"><path d="M17.10 18.80 C17.85 17.65 20.90 17.95 22.80 17.10 C24.70 16.25 26.22 14.75 28.50 13.70 C30.78 12.65 34.02 10.80 36.50 10.80 C38.98 10.80 41.68 12.27 43.40 13.70 C45.12 15.13 46.13 17.30 46.80 19.40 C47.47 21.50 47.58 24.40 47.40 26.30 C47.22 28.20 47.13 29.48 45.70 30.80 C44.27 32.12 40.90 33.25 38.80 34.20 C36.70 35.15 34.82 35.53 33.10 36.50 C31.38 37.47 30.22 39.05 28.50 40.00 C26.78 40.95 24.60 42.30 22.80 42.20 C21.00 42.10 19.12 40.92 17.70 39.40 C16.28 37.88 14.78 35.10 14.30 33.10 C13.82 31.10 14.13 28.92 14.80 27.40 C15.47 25.88 17.92 25.43 18.30 24.00 C18.68 22.57 16.35 19.95 17.10 18.80Z" fill="#0a0aff"/></g><ellipse cx="19.5" cy="33.5" rx="5.2" ry="7.8" transform="rotate(-20 19.5 33.5)" fill="#0a0aff" filter="url(#b06)"/><ellipse cx="23" cy="38" rx="4" ry="3.5" transform="rotate(0 23 38)" fill="#0a0aff" filter="url(#b06)"/><ellipse cx="31" cy="27.5" rx="5.5" ry="6.2" fill="#000010" opacity="1.0" filter="url(#b1)"/><ellipse cx="31" cy="27.5" rx="3.5" ry="4" fill="#000010" opacity="1.0" filter="url(#b1)"/></g></g>
</svg>
<text x="289.4" y="350.8" font-size="5.4" text-anchor="end" fill="#eee" class="w" textLength="11.2" lengthAdjust="spacingAndGlyphs">5μm</text>
<rect x="279.1" y="353" width="10.2" height="1.4" fill="#ddd"/>
<svg x="294" y="299.1" width="57.3" height="57.1" overflow="hidden">
<rect x="0" y="0" width="57.3" height="57.1" fill="#000"/>
<clipPath id="clip4"><path d="M19.40 5.70 C22.07 4.47 26.08 3.18 29.70 2.90 C33.32 2.62 37.87 2.77 41.10 4.00 C44.33 5.23 46.82 7.92 49.10 10.30 C51.38 12.68 53.67 15.45 54.80 18.30 C55.93 21.15 56.08 24.37 55.90 27.40 C55.72 30.43 55.03 33.65 53.70 36.50 C52.37 39.35 50.57 42.30 47.90 44.50 C45.23 46.70 41.12 48.93 37.70 49.70 C34.28 50.47 30.83 50.15 27.40 49.10 C23.97 48.05 19.95 45.68 17.10 43.40 C14.25 41.12 12.02 38.25 10.30 35.40 C8.58 32.55 7.00 29.35 6.80 26.30 C6.60 23.25 7.95 19.77 9.10 17.10 C10.25 14.43 11.98 12.20 13.70 10.30 C15.42 8.40 16.73 6.93 19.40 5.70Z"/></clipPath><g transform="translate(0 0) scale(1 1)"><g filter="url(#texR)"><g filter="url(#b1)"><path d="M19.40 5.70 C22.07 4.47 26.08 3.18 29.70 2.90 C33.32 2.62 37.87 2.77 41.10 4.00 C44.33 5.23 46.82 7.92 49.10 10.30 C51.38 12.68 53.67 15.45 54.80 18.30 C55.93 21.15 56.08 24.37 55.90 27.40 C55.72 30.43 55.03 33.65 53.70 36.50 C52.37 39.35 50.57 42.30 47.90 44.50 C45.23 46.70 41.12 48.93 37.70 49.70 C34.28 50.47 30.83 50.15 27.40 49.10 C23.97 48.05 19.95 45.68 17.10 43.40 C14.25 41.12 12.02 38.25 10.30 35.40 C8.58 32.55 7.00 29.35 6.80 26.30 C6.60 23.25 7.95 19.77 9.10 17.10 C10.25 14.43 11.98 12.20 13.70 10.30 C15.42 8.40 16.73 6.93 19.40 5.70Z" fill="#3a0000"/><g clip-path="url(#clip4)"><path d="M19.40 5.70 C22.07 4.47 26.08 3.18 29.70 2.90 C33.32 2.62 37.87 2.77 41.10 4.00 C44.33 5.23 46.82 7.92 49.10 10.30 C51.38 12.68 53.67 15.45 54.80 18.30 C55.93 21.15 56.08 24.37 55.90 27.40 C55.72 30.43 55.03 33.65 53.70 36.50 C52.37 39.35 50.57 42.30 47.90 44.50 C45.23 46.70 41.12 48.93 37.70 49.70 C34.28 50.47 30.83 50.15 27.40 49.10 C23.97 48.05 19.95 45.68 17.10 43.40 C14.25 41.12 12.02 38.25 10.30 35.40 C8.58 32.55 7.00 29.35 6.80 26.30 C6.60 23.25 7.95 19.77 9.10 17.10 C10.25 14.43 11.98 12.20 13.70 10.30 C15.42 8.40 16.73 6.93 19.40 5.70Z" fill="none" stroke="#8a0000" stroke-width="22.0" filter="url(#bRJ1)"/><ellipse cx="32" cy="27.5" rx="7" ry="7" fill="#000" opacity="0.6" filter="url(#b15)"/></g></g></g></g>
</svg>
<text x="348.7" y="350.8" font-size="5.4" text-anchor="end" fill="#eee" class="w" textLength="11.2" lengthAdjust="spacingAndGlyphs">5μm</text>
<rect x="338.4" y="353" width="10.2" height="1.4" fill="#ddd"/>
<svg x="353.7" y="299.1" width="57.3" height="57.1" overflow="hidden">
<rect x="0" y="0" width="57.3" height="57.1" fill="#000"/>
<g style="isolation:isolate">
<clipPath id="clip5"><path d="M19.40 5.70 C22.07 4.47 26.08 3.18 29.70 2.90 C33.32 2.62 37.87 2.77 41.10 4.00 C44.33 5.23 46.82 7.92 49.10 10.30 C51.38 12.68 53.67 15.45 54.80 18.30 C55.93 21.15 56.08 24.37 55.90 27.40 C55.72 30.43 55.03 33.65 53.70 36.50 C52.37 39.35 50.57 42.30 47.90 44.50 C45.23 46.70 41.12 48.93 37.70 49.70 C34.28 50.47 30.83 50.15 27.40 49.10 C23.97 48.05 19.95 45.68 17.10 43.40 C14.25 41.12 12.02 38.25 10.30 35.40 C8.58 32.55 7.00 29.35 6.80 26.30 C6.60 23.25 7.95 19.77 9.10 17.10 C10.25 14.43 11.98 12.20 13.70 10.30 C15.42 8.40 16.73 6.93 19.40 5.70Z"/></clipPath><g transform="translate(-1.4 0.6) scale(1 1)"><g filter="url(#texR)"><g filter="url(#b1)"><path d="M19.40 5.70 C22.07 4.47 26.08 3.18 29.70 2.90 C33.32 2.62 37.87 2.77 41.10 4.00 C44.33 5.23 46.82 7.92 49.10 10.30 C51.38 12.68 53.67 15.45 54.80 18.30 C55.93 21.15 56.08 24.37 55.90 27.40 C55.72 30.43 55.03 33.65 53.70 36.50 C52.37 39.35 50.57 42.30 47.90 44.50 C45.23 46.70 41.12 48.93 37.70 49.70 C34.28 50.47 30.83 50.15 27.40 49.10 C23.97 48.05 19.95 45.68 17.10 43.40 C14.25 41.12 12.02 38.25 10.30 35.40 C8.58 32.55 7.00 29.35 6.80 26.30 C6.60 23.25 7.95 19.77 9.10 17.10 C10.25 14.43 11.98 12.20 13.70 10.30 C15.42 8.40 16.73 6.93 19.40 5.70Z" fill="#3a0000"/><g clip-path="url(#clip5)"><path d="M19.40 5.70 C22.07 4.47 26.08 3.18 29.70 2.90 C33.32 2.62 37.87 2.77 41.10 4.00 C44.33 5.23 46.82 7.92 49.10 10.30 C51.38 12.68 53.67 15.45 54.80 18.30 C55.93 21.15 56.08 24.37 55.90 27.40 C55.72 30.43 55.03 33.65 53.70 36.50 C52.37 39.35 50.57 42.30 47.90 44.50 C45.23 46.70 41.12 48.93 37.70 49.70 C34.28 50.47 30.83 50.15 27.40 49.10 C23.97 48.05 19.95 45.68 17.10 43.40 C14.25 41.12 12.02 38.25 10.30 35.40 C8.58 32.55 7.00 29.35 6.80 26.30 C6.60 23.25 7.95 19.77 9.10 17.10 C10.25 14.43 11.98 12.20 13.70 10.30 C15.42 8.40 16.73 6.93 19.40 5.70Z" fill="none" stroke="#8a0000" stroke-width="22.0" filter="url(#bRJ1)"/><ellipse cx="32" cy="27.5" rx="7" ry="7" fill="#000" opacity="0.6" filter="url(#b15)"/></g></g></g></g>
<g transform="translate(-2 -2.23) scale(1.18 1.16)" style="mix-blend-mode:screen"><g filter="url(#texB)"><g filter="url(#speck)"><path d="M17.10 18.80 C17.85 17.65 20.90 17.95 22.80 17.10 C24.70 16.25 26.22 14.75 28.50 13.70 C30.78 12.65 34.02 10.80 36.50 10.80 C38.98 10.80 41.68 12.27 43.40 13.70 C45.12 15.13 46.13 17.30 46.80 19.40 C47.47 21.50 47.58 24.40 47.40 26.30 C47.22 28.20 47.13 29.48 45.70 30.80 C44.27 32.12 40.90 33.25 38.80 34.20 C36.70 35.15 34.82 35.53 33.10 36.50 C31.38 37.47 30.22 39.05 28.50 40.00 C26.78 40.95 24.60 42.30 22.80 42.20 C21.00 42.10 19.12 40.92 17.70 39.40 C16.28 37.88 14.78 35.10 14.30 33.10 C13.82 31.10 14.13 28.92 14.80 27.40 C15.47 25.88 17.92 25.43 18.30 24.00 C18.68 22.57 16.35 19.95 17.10 18.80Z" fill="#0a0aff"/></g><ellipse cx="19.5" cy="33.5" rx="5.2" ry="7.8" transform="rotate(-20 19.5 33.5)" fill="#0a0aff" filter="url(#b06)"/><ellipse cx="23" cy="38" rx="4" ry="3.5" transform="rotate(0 23 38)" fill="#0a0aff" filter="url(#b06)"/><ellipse cx="31" cy="27.5" rx="5.5" ry="6.2" fill="#000010" opacity="1.0" filter="url(#b1)"/><ellipse cx="31" cy="27.5" rx="3.5" ry="4" fill="#000010" opacity="1.0" filter="url(#b1)"/></g></g>
</g>
</svg>
<text x="408.4" y="350.8" font-size="5.4" text-anchor="end" fill="#eee" class="w" textLength="11.2" lengthAdjust="spacingAndGlyphs">5μm</text>
<rect x="398.1" y="353" width="10.2" height="1.4" fill="#ddd"/>
<svg x="234.7" y="358.4" width="57.3" height="57.1" overflow="hidden">
<rect x="0" y="0" width="57.3" height="57.1" fill="#000"/>
<g transform="translate(0 0) scale(1 1)"><g filter="url(#texB)"><path d="M9.10 17.10 C10.23 15.38 12.52 12.63 14.80 11.40 C17.08 10.17 20.32 9.80 22.80 9.70 C25.28 9.60 27.80 10.32 29.70 10.80 C31.60 11.28 32.30 12.30 34.20 12.60 C36.10 12.90 38.82 11.85 41.10 12.60 C43.38 13.35 46.10 15.02 47.90 17.10 C49.70 19.18 51.23 22.25 51.90 25.10 C52.57 27.95 52.57 31.35 51.90 34.20 C51.23 37.05 49.70 40.28 47.90 42.20 C46.10 44.12 43.38 45.42 41.10 45.70 C38.82 45.98 35.92 45.05 34.20 43.90 C32.48 42.75 31.37 40.78 30.80 38.80 C30.23 36.82 31.55 33.72 30.80 32.00 C30.05 30.28 28.58 28.88 26.30 28.50 C24.02 28.12 19.77 30.07 17.10 29.70 C14.43 29.33 11.82 27.63 10.30 26.30 C8.78 24.97 8.20 23.23 8.00 21.70 C7.80 20.17 7.97 18.82 9.10 17.10Z" fill="#00008a" filter="url(#b1)"/><path d="M9.10 17.10 C10.23 15.38 12.52 12.63 14.80 11.40 C17.08 10.17 20.32 9.80 22.80 9.70 C25.28 9.60 27.80 10.32 29.70 10.80 C31.60 11.28 32.30 12.30 34.20 12.60 C36.10 12.90 38.82 11.85 41.10 12.60 C43.38 13.35 46.10 15.02 47.90 17.10 C49.70 19.18 51.23 22.25 51.90 25.10 C52.57 27.95 52.57 31.35 51.90 34.20 C51.23 37.05 49.70 40.28 47.90 42.20 C46.10 44.12 43.38 45.42 41.10 45.70 C38.82 45.98 35.92 45.05 34.20 43.90 C32.48 42.75 31.37 40.78 30.80 38.80 C30.23 36.82 31.55 33.72 30.80 32.00 C30.05 30.28 28.58 28.88 26.30 28.50 C24.02 28.12 19.77 30.07 17.10 29.70 C14.43 29.33 11.82 27.63 10.30 26.30 C8.78 24.97 8.20 23.23 8.00 21.70 C7.80 20.17 7.97 18.82 9.10 17.10Z" fill="none" stroke="#1010d0" stroke-width="1.4" opacity="0.8" filter="url(#b1)"/><ellipse cx="18" cy="20" rx="6" ry="4" fill="#000010" opacity="0.4" filter="url(#b1)"/><ellipse cx="40" cy="28" rx="6" ry="7" fill="#000010" opacity="0.45" filter="url(#b1)"/></g></g>
</svg>
<text x="289.4" y="410.1" font-size="5.4" text-anchor="end" fill="#eee" class="w" textLength="11.2" lengthAdjust="spacingAndGlyphs">5μm</text>
<rect x="279.1" y="412.3" width="10.2" height="1.4" fill="#ddd"/>
<svg x="294" y="358.4" width="57.3" height="57.1" overflow="hidden">
<rect x="0" y="0" width="57.3" height="57.1" fill="#000"/>
<clipPath id="clip6"><path d="M2.30 13.70 C3.63 12.37 6.25 10.53 9.10 9.10 C11.95 7.67 15.97 5.48 19.40 5.10 C22.83 4.72 26.65 5.93 29.70 6.80 C32.75 7.67 34.85 8.77 37.70 10.30 C40.55 11.83 44.33 13.92 46.80 16.00 C49.27 18.08 51.17 19.95 52.50 22.80 C53.83 25.65 54.60 29.67 54.80 33.10 C55.00 36.53 54.47 40.55 53.70 43.40 C52.93 46.25 52.48 48.87 50.20 50.20 C47.92 51.53 43.23 50.82 40.00 51.40 C36.77 51.98 33.67 53.62 30.80 53.70 C27.93 53.78 23.93 52.85 22.80 51.90 C21.67 50.95 25.33 49.62 24.00 48.00 C22.67 46.38 17.67 44.50 14.80 42.20 C11.93 39.90 8.70 37.05 6.80 34.20 C4.90 31.35 4.35 27.95 3.40 25.10 C2.45 22.25 1.28 19.00 1.10 17.10 C0.92 15.20 0.97 15.03 2.30 13.70Z"/></clipPath><g transform="translate(0 0) scale(1 1)"><g filter="url(#texR)"><g filter="url(#b1)"><path d="M2.30 13.70 C3.63 12.37 6.25 10.53 9.10 9.10 C11.95 7.67 15.97 5.48 19.40 5.10 C22.83 4.72 26.65 5.93 29.70 6.80 C32.75 7.67 34.85 8.77 37.70 10.30 C40.55 11.83 44.33 13.92 46.80 16.00 C49.27 18.08 51.17 19.95 52.50 22.80 C53.83 25.65 54.60 29.67 54.80 33.10 C55.00 36.53 54.47 40.55 53.70 43.40 C52.93 46.25 52.48 48.87 50.20 50.20 C47.92 51.53 43.23 50.82 40.00 51.40 C36.77 51.98 33.67 53.62 30.80 53.70 C27.93 53.78 23.93 52.85 22.80 51.90 C21.67 50.95 25.33 49.62 24.00 48.00 C22.67 46.38 17.67 44.50 14.80 42.20 C11.93 39.90 8.70 37.05 6.80 34.20 C4.90 31.35 4.35 27.95 3.40 25.10 C2.45 22.25 1.28 19.00 1.10 17.10 C0.92 15.20 0.97 15.03 2.30 13.70Z" fill="#300000"/><g clip-path="url(#clip6)"><path d="M2.30 13.70 C3.63 12.37 6.25 10.53 9.10 9.10 C11.95 7.67 15.97 5.48 19.40 5.10 C22.83 4.72 26.65 5.93 29.70 6.80 C32.75 7.67 34.85 8.77 37.70 10.30 C40.55 11.83 44.33 13.92 46.80 16.00 C49.27 18.08 51.17 19.95 52.50 22.80 C53.83 25.65 54.60 29.67 54.80 33.10 C55.00 36.53 54.47 40.55 53.70 43.40 C52.93 46.25 52.48 48.87 50.20 50.20 C47.92 51.53 43.23 50.82 40.00 51.40 C36.77 51.98 33.67 53.62 30.80 53.70 C27.93 53.78 23.93 52.85 22.80 51.90 C21.67 50.95 25.33 49.62 24.00 48.00 C22.67 46.38 17.67 44.50 14.80 42.20 C11.93 39.90 8.70 37.05 6.80 34.20 C4.90 31.35 4.35 27.95 3.40 25.10 C2.45 22.25 1.28 19.00 1.10 17.10 C0.92 15.20 0.97 15.03 2.30 13.70Z" fill="none" stroke="#b00000" stroke-width="13.0" filter="url(#bRJ2)"/><ellipse cx="26.3" cy="25.5" rx="9" ry="6" fill="#000" opacity="0.6" filter="url(#b15)"/><ellipse cx="31" cy="46.5" rx="7.5" ry="4.5" fill="#f01010" filter="url(#b1)"/><ellipse cx="27" cy="50.5" rx="4.5" ry="3" fill="#f01010" filter="url(#b1)"/><ellipse cx="37" cy="43.5" rx="5" ry="3" fill="#f01010" filter="url(#b1)"/><ellipse cx="23.5" cy="51.5" rx="2.5" ry="2" fill="#f01010" filter="url(#b1)"/></g></g></g></g>
</svg>
<text x="348.7" y="410.1" font-size="5.4" text-anchor="end" fill="#eee" class="w" textLength="11.2" lengthAdjust="spacingAndGlyphs">5μm</text>
<rect x="338.4" y="412.3" width="10.2" height="1.4" fill="#ddd"/>
<svg x="353.7" y="358.4" width="57.3" height="57.1" overflow="hidden">
<rect x="0" y="0" width="57.3" height="57.1" fill="#000"/>
<g style="isolation:isolate">
<clipPath id="clip7"><path d="M2.30 13.70 C3.63 12.37 6.25 10.53 9.10 9.10 C11.95 7.67 15.97 5.48 19.40 5.10 C22.83 4.72 26.65 5.93 29.70 6.80 C32.75 7.67 34.85 8.77 37.70 10.30 C40.55 11.83 44.33 13.92 46.80 16.00 C49.27 18.08 51.17 19.95 52.50 22.80 C53.83 25.65 54.60 29.67 54.80 33.10 C55.00 36.53 54.47 40.55 53.70 43.40 C52.93 46.25 52.48 48.87 50.20 50.20 C47.92 51.53 43.23 50.82 40.00 51.40 C36.77 51.98 33.67 53.62 30.80 53.70 C27.93 53.78 23.93 52.85 22.80 51.90 C21.67 50.95 25.33 49.62 24.00 48.00 C22.67 46.38 17.67 44.50 14.80 42.20 C11.93 39.90 8.70 37.05 6.80 34.20 C4.90 31.35 4.35 27.95 3.40 25.10 C2.45 22.25 1.28 19.00 1.10 17.10 C0.92 15.20 0.97 15.03 2.30 13.70Z"/></clipPath><g transform="translate(0 0) scale(1 1)"><g filter="url(#texR)"><g filter="url(#b1)"><path d="M2.30 13.70 C3.63 12.37 6.25 10.53 9.10 9.10 C11.95 7.67 15.97 5.48 19.40 5.10 C22.83 4.72 26.65 5.93 29.70 6.80 C32.75 7.67 34.85 8.77 37.70 10.30 C40.55 11.83 44.33 13.92 46.80 16.00 C49.27 18.08 51.17 19.95 52.50 22.80 C53.83 25.65 54.60 29.67 54.80 33.10 C55.00 36.53 54.47 40.55 53.70 43.40 C52.93 46.25 52.48 48.87 50.20 50.20 C47.92 51.53 43.23 50.82 40.00 51.40 C36.77 51.98 33.67 53.62 30.80 53.70 C27.93 53.78 23.93 52.85 22.80 51.90 C21.67 50.95 25.33 49.62 24.00 48.00 C22.67 46.38 17.67 44.50 14.80 42.20 C11.93 39.90 8.70 37.05 6.80 34.20 C4.90 31.35 4.35 27.95 3.40 25.10 C2.45 22.25 1.28 19.00 1.10 17.10 C0.92 15.20 0.97 15.03 2.30 13.70Z" fill="#300000"/><g clip-path="url(#clip7)"><path d="M2.30 13.70 C3.63 12.37 6.25 10.53 9.10 9.10 C11.95 7.67 15.97 5.48 19.40 5.10 C22.83 4.72 26.65 5.93 29.70 6.80 C32.75 7.67 34.85 8.77 37.70 10.30 C40.55 11.83 44.33 13.92 46.80 16.00 C49.27 18.08 51.17 19.95 52.50 22.80 C53.83 25.65 54.60 29.67 54.80 33.10 C55.00 36.53 54.47 40.55 53.70 43.40 C52.93 46.25 52.48 48.87 50.20 50.20 C47.92 51.53 43.23 50.82 40.00 51.40 C36.77 51.98 33.67 53.62 30.80 53.70 C27.93 53.78 23.93 52.85 22.80 51.90 C21.67 50.95 25.33 49.62 24.00 48.00 C22.67 46.38 17.67 44.50 14.80 42.20 C11.93 39.90 8.70 37.05 6.80 34.20 C4.90 31.35 4.35 27.95 3.40 25.10 C2.45 22.25 1.28 19.00 1.10 17.10 C0.92 15.20 0.97 15.03 2.30 13.70Z" fill="none" stroke="#b00000" stroke-width="13.0" filter="url(#bRJ2)"/><ellipse cx="26.3" cy="25.5" rx="9" ry="6" fill="#000" opacity="0.6" filter="url(#b15)"/><ellipse cx="31" cy="46.5" rx="7.5" ry="4.5" fill="#f01010" filter="url(#b1)"/><ellipse cx="27" cy="50.5" rx="4.5" ry="3" fill="#f01010" filter="url(#b1)"/><ellipse cx="37" cy="43.5" rx="5" ry="3" fill="#f01010" filter="url(#b1)"/><ellipse cx="23.5" cy="51.5" rx="2.5" ry="2" fill="#f01010" filter="url(#b1)"/></g></g></g></g>
<g transform="translate(0 1.2) scale(1 1)" style="mix-blend-mode:screen"><g filter="url(#texB)"><path d="M9.10 17.10 C10.23 15.38 12.52 12.63 14.80 11.40 C17.08 10.17 20.32 9.80 22.80 9.70 C25.28 9.60 27.80 10.32 29.70 10.80 C31.60 11.28 32.30 12.30 34.20 12.60 C36.10 12.90 38.82 11.85 41.10 12.60 C43.38 13.35 46.10 15.02 47.90 17.10 C49.70 19.18 51.23 22.25 51.90 25.10 C52.57 27.95 52.57 31.35 51.90 34.20 C51.23 37.05 49.70 40.28 47.90 42.20 C46.10 44.12 43.38 45.42 41.10 45.70 C38.82 45.98 35.92 45.05 34.20 43.90 C32.48 42.75 31.37 40.78 30.80 38.80 C30.23 36.82 31.55 33.72 30.80 32.00 C30.05 30.28 28.58 28.88 26.30 28.50 C24.02 28.12 19.77 30.07 17.10 29.70 C14.43 29.33 11.82 27.63 10.30 26.30 C8.78 24.97 8.20 23.23 8.00 21.70 C7.80 20.17 7.97 18.82 9.10 17.10Z" fill="#00008a" filter="url(#b1)"/><path d="M9.10 17.10 C10.23 15.38 12.52 12.63 14.80 11.40 C17.08 10.17 20.32 9.80 22.80 9.70 C25.28 9.60 27.80 10.32 29.70 10.80 C31.60 11.28 32.30 12.30 34.20 12.60 C36.10 12.90 38.82 11.85 41.10 12.60 C43.38 13.35 46.10 15.02 47.90 17.10 C49.70 19.18 51.23 22.25 51.90 25.10 C52.57 27.95 52.57 31.35 51.90 34.20 C51.23 37.05 49.70 40.28 47.90 42.20 C46.10 44.12 43.38 45.42 41.10 45.70 C38.82 45.98 35.92 45.05 34.20 43.90 C32.48 42.75 31.37 40.78 30.80 38.80 C30.23 36.82 31.55 33.72 30.80 32.00 C30.05 30.28 28.58 28.88 26.30 28.50 C24.02 28.12 19.77 30.07 17.10 29.70 C14.43 29.33 11.82 27.63 10.30 26.30 C8.78 24.97 8.20 23.23 8.00 21.70 C7.80 20.17 7.97 18.82 9.10 17.10Z" fill="none" stroke="#1010d0" stroke-width="1.4" opacity="0.8" filter="url(#b1)"/><ellipse cx="18" cy="20" rx="6" ry="4" fill="#000010" opacity="0.4" filter="url(#b1)"/><ellipse cx="40" cy="28" rx="6" ry="7" fill="#000010" opacity="0.45" filter="url(#b1)"/></g></g>
</g>
</svg>
<text x="408.4" y="410.1" font-size="5.4" text-anchor="end" fill="#eee" class="w" textLength="11.2" lengthAdjust="spacingAndGlyphs">5μm</text>
<rect x="398.1" y="412.3" width="10.2" height="1.4" fill="#ddd"/>
<svg x="234.7" y="417.9" width="57.3" height="57.1" overflow="hidden">
<rect x="0" y="0" width="57.3" height="57.1" fill="#000"/>
<g transform="translate(0 0) scale(1 1)"><g filter="url(#texB)"><path d="M13.70 14.80 C15.40 13.18 18.03 13.10 20.50 13.10 C22.97 13.10 26.40 15.27 28.50 14.80 C30.60 14.33 31.38 10.97 33.10 10.30 C34.82 9.63 37.08 9.85 38.80 10.80 C40.52 11.75 42.07 14.18 43.40 16.00 C44.73 17.82 45.85 19.62 46.80 21.70 C47.75 23.78 48.92 26.03 49.10 28.50 C49.28 30.97 48.67 34.02 47.90 36.50 C47.13 38.98 46.20 41.48 44.50 43.40 C42.80 45.32 40.37 47.43 37.70 48.00 C35.03 48.57 31.37 47.57 28.50 46.80 C25.63 46.03 22.78 44.92 20.50 43.40 C18.22 41.88 16.32 39.80 14.80 37.70 C13.28 35.60 12.15 33.28 11.40 30.80 C10.65 28.32 9.92 25.47 10.30 22.80 C10.68 20.13 12.00 16.42 13.70 14.80Z" fill="#0404d0" filter="url(#b1)"/><path d="M13.70 14.80 C15.40 13.18 18.03 13.10 20.50 13.10 C22.97 13.10 26.40 15.27 28.50 14.80 C30.60 14.33 31.38 10.97 33.10 10.30 C34.82 9.63 37.08 9.85 38.80 10.80 C40.52 11.75 42.07 14.18 43.40 16.00 C44.73 17.82 45.85 19.62 46.80 21.70 C47.75 23.78 48.92 26.03 49.10 28.50 C49.28 30.97 48.67 34.02 47.90 36.50 C47.13 38.98 46.20 41.48 44.50 43.40 C42.80 45.32 40.37 47.43 37.70 48.00 C35.03 48.57 31.37 47.57 28.50 46.80 C25.63 46.03 22.78 44.92 20.50 43.40 C18.22 41.88 16.32 39.80 14.80 37.70 C13.28 35.60 12.15 33.28 11.40 30.80 C10.65 28.32 9.92 25.47 10.30 22.80 C10.68 20.13 12.00 16.42 13.70 14.80Z" fill="none" stroke="#1010f0" stroke-width="1.2" opacity="0.8" filter="url(#b1)"/><ellipse cx="20" cy="23" rx="4" ry="5" fill="#000010" opacity="0.5" filter="url(#b1)"/><ellipse cx="34" cy="39" rx="4" ry="3" fill="#000010" opacity="0.45" filter="url(#b1)"/><ellipse cx="30" cy="25" rx="3" ry="3" fill="#000010" opacity="0.3" filter="url(#b1)"/><ellipse cx="40" cy="30" rx="3" ry="3" fill="#000010" opacity="0.3" filter="url(#b1)"/></g></g>
</svg>
<text x="289.4" y="469.6" font-size="5.4" text-anchor="end" fill="#eee" class="w" textLength="11.2" lengthAdjust="spacingAndGlyphs">5μm</text>
<rect x="279.1" y="471.8" width="10.2" height="1.4" fill="#ddd"/>
<svg x="294" y="417.9" width="57.3" height="57.1" overflow="hidden">
<rect x="0" y="0" width="57.3" height="57.1" fill="#000"/>
<clipPath id="clip8"><path d="M14.80 10.30 C17.27 9.07 19.75 7.78 22.80 7.40 C25.85 7.02 30.05 7.33 33.10 8.00 C36.15 8.67 39.00 9.50 41.10 11.40 C43.20 13.30 44.57 16.55 45.70 19.40 C46.83 22.25 47.72 25.27 47.90 28.50 C48.08 31.73 47.55 35.55 46.80 38.80 C46.05 42.05 45.50 45.62 43.40 48.00 C41.30 50.38 37.63 52.73 34.20 53.10 C30.77 53.47 26.40 51.82 22.80 50.20 C19.20 48.58 15.27 46.07 12.60 43.40 C9.93 40.73 8.05 37.63 6.80 34.20 C5.55 30.77 4.90 26.03 5.10 22.80 C5.30 19.57 6.38 16.88 8.00 14.80 C9.62 12.72 12.33 11.53 14.80 10.30Z"/></clipPath><g transform="translate(0 0) scale(1 1)"><g filter="url(#texR)"><g filter="url(#b1)"><path d="M14.80 10.30 C17.27 9.07 19.75 7.78 22.80 7.40 C25.85 7.02 30.05 7.33 33.10 8.00 C36.15 8.67 39.00 9.50 41.10 11.40 C43.20 13.30 44.57 16.55 45.70 19.40 C46.83 22.25 47.72 25.27 47.90 28.50 C48.08 31.73 47.55 35.55 46.80 38.80 C46.05 42.05 45.50 45.62 43.40 48.00 C41.30 50.38 37.63 52.73 34.20 53.10 C30.77 53.47 26.40 51.82 22.80 50.20 C19.20 48.58 15.27 46.07 12.60 43.40 C9.93 40.73 8.05 37.63 6.80 34.20 C5.55 30.77 4.90 26.03 5.10 22.80 C5.30 19.57 6.38 16.88 8.00 14.80 C9.62 12.72 12.33 11.53 14.80 10.30Z" fill="#340000"/><g clip-path="url(#clip8)"><path d="M14.80 10.30 C17.27 9.07 19.75 7.78 22.80 7.40 C25.85 7.02 30.05 7.33 33.10 8.00 C36.15 8.67 39.00 9.50 41.10 11.40 C43.20 13.30 44.57 16.55 45.70 19.40 C46.83 22.25 47.72 25.27 47.90 28.50 C48.08 31.73 47.55 35.55 46.80 38.80 C46.05 42.05 45.50 45.62 43.40 48.00 C41.30 50.38 37.63 52.73 34.20 53.10 C30.77 53.47 26.40 51.82 22.80 50.20 C19.20 48.58 15.27 46.07 12.60 43.40 C9.93 40.73 8.05 37.63 6.80 34.20 C5.55 30.77 4.90 26.03 5.10 22.80 C5.30 19.57 6.38 16.88 8.00 14.80 C9.62 12.72 12.33 11.53 14.80 10.30Z" fill="none" stroke="#b00000" stroke-width="10.0" filter="url(#bRJ3)"/><ellipse cx="19.4" cy="22.8" rx="4" ry="5" fill="#000" opacity="0.45" filter="url(#b15)"/><ellipse cx="33" cy="40" rx="4" ry="3" fill="#000" opacity="0.4" filter="url(#b15)"/></g></g></g></g>
</svg>
<text x="348.7" y="469.6" font-size="5.4" text-anchor="end" fill="#eee" class="w" textLength="11.2" lengthAdjust="spacingAndGlyphs">5μm</text>
<rect x="338.4" y="471.8" width="10.2" height="1.4" fill="#ddd"/>
<svg x="353.7" y="417.9" width="57.3" height="57.1" overflow="hidden">
<rect x="0" y="0" width="57.3" height="57.1" fill="#000"/>
<g style="isolation:isolate">
<clipPath id="clip9"><path d="M14.80 10.30 C17.27 9.07 19.75 7.78 22.80 7.40 C25.85 7.02 30.05 7.33 33.10 8.00 C36.15 8.67 39.00 9.50 41.10 11.40 C43.20 13.30 44.57 16.55 45.70 19.40 C46.83 22.25 47.72 25.27 47.90 28.50 C48.08 31.73 47.55 35.55 46.80 38.80 C46.05 42.05 45.50 45.62 43.40 48.00 C41.30 50.38 37.63 52.73 34.20 53.10 C30.77 53.47 26.40 51.82 22.80 50.20 C19.20 48.58 15.27 46.07 12.60 43.40 C9.93 40.73 8.05 37.63 6.80 34.20 C5.55 30.77 4.90 26.03 5.10 22.80 C5.30 19.57 6.38 16.88 8.00 14.80 C9.62 12.72 12.33 11.53 14.80 10.30Z"/></clipPath><g transform="translate(4.8 0) scale(1 1)"><g filter="url(#texR)"><g filter="url(#b1)"><path d="M14.80 10.30 C17.27 9.07 19.75 7.78 22.80 7.40 C25.85 7.02 30.05 7.33 33.10 8.00 C36.15 8.67 39.00 9.50 41.10 11.40 C43.20 13.30 44.57 16.55 45.70 19.40 C46.83 22.25 47.72 25.27 47.90 28.50 C48.08 31.73 47.55 35.55 46.80 38.80 C46.05 42.05 45.50 45.62 43.40 48.00 C41.30 50.38 37.63 52.73 34.20 53.10 C30.77 53.47 26.40 51.82 22.80 50.20 C19.20 48.58 15.27 46.07 12.60 43.40 C9.93 40.73 8.05 37.63 6.80 34.20 C5.55 30.77 4.90 26.03 5.10 22.80 C5.30 19.57 6.38 16.88 8.00 14.80 C9.62 12.72 12.33 11.53 14.80 10.30Z" fill="#340000"/><g clip-path="url(#clip9)"><path d="M14.80 10.30 C17.27 9.07 19.75 7.78 22.80 7.40 C25.85 7.02 30.05 7.33 33.10 8.00 C36.15 8.67 39.00 9.50 41.10 11.40 C43.20 13.30 44.57 16.55 45.70 19.40 C46.83 22.25 47.72 25.27 47.90 28.50 C48.08 31.73 47.55 35.55 46.80 38.80 C46.05 42.05 45.50 45.62 43.40 48.00 C41.30 50.38 37.63 52.73 34.20 53.10 C30.77 53.47 26.40 51.82 22.80 50.20 C19.20 48.58 15.27 46.07 12.60 43.40 C9.93 40.73 8.05 37.63 6.80 34.20 C5.55 30.77 4.90 26.03 5.10 22.80 C5.30 19.57 6.38 16.88 8.00 14.80 C9.62 12.72 12.33 11.53 14.80 10.30Z" fill="none" stroke="#b00000" stroke-width="10.0" filter="url(#bRJ3)"/><ellipse cx="19.4" cy="22.8" rx="4" ry="5" fill="#000" opacity="0.45" filter="url(#b15)"/><ellipse cx="33" cy="40" rx="4" ry="3" fill="#000" opacity="0.4" filter="url(#b15)"/></g></g></g></g>
<g transform="translate(1.1 2) scale(1 1)" style="mix-blend-mode:screen"><g filter="url(#texB)"><path d="M13.70 14.80 C15.40 13.18 18.03 13.10 20.50 13.10 C22.97 13.10 26.40 15.27 28.50 14.80 C30.60 14.33 31.38 10.97 33.10 10.30 C34.82 9.63 37.08 9.85 38.80 10.80 C40.52 11.75 42.07 14.18 43.40 16.00 C44.73 17.82 45.85 19.62 46.80 21.70 C47.75 23.78 48.92 26.03 49.10 28.50 C49.28 30.97 48.67 34.02 47.90 36.50 C47.13 38.98 46.20 41.48 44.50 43.40 C42.80 45.32 40.37 47.43 37.70 48.00 C35.03 48.57 31.37 47.57 28.50 46.80 C25.63 46.03 22.78 44.92 20.50 43.40 C18.22 41.88 16.32 39.80 14.80 37.70 C13.28 35.60 12.15 33.28 11.40 30.80 C10.65 28.32 9.92 25.47 10.30 22.80 C10.68 20.13 12.00 16.42 13.70 14.80Z" fill="#0404d0" filter="url(#b1)"/><path d="M13.70 14.80 C15.40 13.18 18.03 13.10 20.50 13.10 C22.97 13.10 26.40 15.27 28.50 14.80 C30.60 14.33 31.38 10.97 33.10 10.30 C34.82 9.63 37.08 9.85 38.80 10.80 C40.52 11.75 42.07 14.18 43.40 16.00 C44.73 17.82 45.85 19.62 46.80 21.70 C47.75 23.78 48.92 26.03 49.10 28.50 C49.28 30.97 48.67 34.02 47.90 36.50 C47.13 38.98 46.20 41.48 44.50 43.40 C42.80 45.32 40.37 47.43 37.70 48.00 C35.03 48.57 31.37 47.57 28.50 46.80 C25.63 46.03 22.78 44.92 20.50 43.40 C18.22 41.88 16.32 39.80 14.80 37.70 C13.28 35.60 12.15 33.28 11.40 30.80 C10.65 28.32 9.92 25.47 10.30 22.80 C10.68 20.13 12.00 16.42 13.70 14.80Z" fill="none" stroke="#1010f0" stroke-width="1.2" opacity="0.8" filter="url(#b1)"/><ellipse cx="20" cy="23" rx="4" ry="5" fill="#000010" opacity="0.5" filter="url(#b1)"/><ellipse cx="34" cy="39" rx="4" ry="3" fill="#000010" opacity="0.45" filter="url(#b1)"/><ellipse cx="30" cy="25" rx="3" ry="3" fill="#000010" opacity="0.3" filter="url(#b1)"/><ellipse cx="40" cy="30" rx="3" ry="3" fill="#000010" opacity="0.3" filter="url(#b1)"/></g></g>
</g>
</svg>
<text x="408.4" y="469.6" font-size="5.4" text-anchor="end" fill="#eee" class="w" textLength="11.2" lengthAdjust="spacingAndGlyphs">5μm</text>
<rect x="398.1" y="471.8" width="10.2" height="1.4" fill="#ddd"/>
<text x="16" y="306.8" font-size="6.0" fill="#fff" class="w">CTR</text>
<text x="16" y="366.6" font-size="6.0" fill="#fff" class="w">rEGF 1 hour</text>
<text x="237" y="307.8" font-size="6.0" fill="#fff" class="w">rEGF(–)</text>
<text x="237" y="367" font-size="6.0" fill="#fff" class="w">rEGF(+)</text>
<text x="237" y="426.6" font-size="6.0" fill="#fff" class="w">rEGF(++)</text>
<rect x="99.9" y="460.13" width="11" height="29.17" fill="#c8102e"/>
<line x1="105.4" y1="451.56" x2="105.4" y2="460.13" stroke="#1a1a1a" stroke-width="1"/>
<line x1="103.25" y1="451.56" x2="107.55" y2="451.56" stroke="#1a1a1a" stroke-width="1"/>
<rect x="116.1" y="446.75" width="11" height="42.55" fill="#c8102e"/>
<line x1="121.6" y1="445.38" x2="121.6" y2="446.75" stroke="#1a1a1a" stroke-width="1"/>
<line x1="119.45" y1="445.38" x2="123.75" y2="445.38" stroke="#1a1a1a" stroke-width="1"/>
<line x1="97.7" y1="433.9" x2="97.7" y2="489.95" stroke="#111" stroke-width="1.3"/>
<line x1="97.05" y1="489.3" x2="130.6" y2="489.3" stroke="#111" stroke-width="1.3"/>
<line x1="93.7" y1="489.3" x2="97.7" y2="489.3" stroke="#111" stroke-width="1.1"/>
<text x="91.7" y="491.82" font-size="7.0" text-anchor="end">0.0</text>
<line x1="93.7" y1="475.57" x2="97.7" y2="475.57" stroke="#111" stroke-width="1.1"/>
<text x="91.7" y="478.09" font-size="7.0" text-anchor="end">0.2</text>
<line x1="93.7" y1="461.85" x2="97.7" y2="461.85" stroke="#111" stroke-width="1.1"/>
<text x="91.7" y="464.37" font-size="7.0" text-anchor="end">0.4</text>
<line x1="93.7" y1="448.12" x2="97.7" y2="448.12" stroke="#111" stroke-width="1.1"/>
<text x="91.7" y="450.64" font-size="7.0" text-anchor="end">0.6</text>
<line x1="93.7" y1="434.4" x2="97.7" y2="434.4" stroke="#111" stroke-width="1.1"/>
<text x="91.7" y="436.92" font-size="7.0" text-anchor="end">0.8</text>
<line x1="105.4" y1="489.3" x2="105.4" y2="491.9" stroke="#111" stroke-width="1.1"/>
<line x1="121.6" y1="489.3" x2="121.6" y2="491.9" stroke="#111" stroke-width="1.1"/>
<line x1="105.7" y1="440.4" x2="121.9" y2="440.4" stroke="#1a1a1a" stroke-width="1"/>
<line x1="105.7" y1="437.8" x2="105.7" y2="443" stroke="#1a1a1a" stroke-width="1"/>
<line x1="121.9" y1="437.8" x2="121.9" y2="443" stroke="#1a1a1a" stroke-width="1"/>
<text x="113.8" y="440.6" font-size="6.5" text-anchor="middle">*</text>
<text x="79" y="500" font-size="7.2" textLength="17.2" lengthAdjust="spacingAndGlyphs">rEGF</text>
<text x="106.2" y="500" font-size="7.0" text-anchor="middle">–</text>
<text x="122" y="500" font-size="7.0" text-anchor="middle">+</text>
<text x="63.6" y="462.6" font-size="7.4" text-anchor="middle" class="med" transform="rotate(-90 63.6 462.6)" textLength="44.5" lengthAdjust="spacingAndGlyphs">Gli distribution</text>
<text x="75.6" y="462" font-size="7.0" text-anchor="middle" class="med" transform="rotate(-90 75.6 462)" textLength="56" lengthAdjust="spacingAndGlyphs">(nucleus/total ratio)</text>
<rect x="470.05" y="391.04" width="9.7" height="20.56" fill="#c8102e"/>
<line x1="474.9" y1="387.9" x2="474.9" y2="391.04" stroke="#1a1a1a" stroke-width="1"/>
<line x1="472.75" y1="387.9" x2="477.05" y2="387.9" stroke="#1a1a1a" stroke-width="1"/>
<rect x="485.15" y="385.91" width="9.7" height="25.69" fill="#c8102e"/>
<line x1="490" y1="383.34" x2="490" y2="385.91" stroke="#1a1a1a" stroke-width="1"/>
<line x1="487.85" y1="383.34" x2="492.15" y2="383.34" stroke="#1a1a1a" stroke-width="1"/>
<rect x="499.95" y="361.01" width="9.7" height="50.59" fill="#c8102e"/>
<line x1="504.8" y1="358.5" x2="504.8" y2="361.01" stroke="#1a1a1a" stroke-width="1"/>
<line x1="502.65" y1="358.5" x2="506.95" y2="358.5" stroke="#1a1a1a" stroke-width="1"/>
<line x1="467.6" y1="354" x2="467.6" y2="412.25" stroke="#111" stroke-width="1.3"/>
<line x1="466.95" y1="411.6" x2="512.3" y2="411.6" stroke="#111" stroke-width="1.3"/>
<line x1="463.6" y1="411.6" x2="467.6" y2="411.6" stroke="#111" stroke-width="1.1"/>
<text x="462.2" y="414.12" font-size="7.0" text-anchor="end">0.0</text>
<line x1="463.6" y1="400.18" x2="467.6" y2="400.18" stroke="#111" stroke-width="1.1"/>
<text x="462.2" y="402.7" font-size="7.0" text-anchor="end">0.2</text>
<line x1="463.6" y1="388.76" x2="467.6" y2="388.76" stroke="#111" stroke-width="1.1"/>
<text x="462.2" y="391.28" font-size="7.0" text-anchor="end">0.4</text>
<line x1="463.6" y1="377.34" x2="467.6" y2="377.34" stroke="#111" stroke-width="1.1"/>
<text x="462.2" y="379.86" font-size="7.0" text-anchor="end">0.6</text>
<line x1="463.6" y1="365.92" x2="467.6" y2="365.92" stroke="#111" stroke-width="1.1"/>
<text x="462.2" y="368.44" font-size="7.0" text-anchor="end">0.8</text>
<line x1="463.6" y1="354.5" x2="467.6" y2="354.5" stroke="#111" stroke-width="1.1"/>
<text x="462.2" y="357.02" font-size="7.0" text-anchor="end">1.0</text>
<line x1="474.9" y1="411.6" x2="474.9" y2="414.2" stroke="#111" stroke-width="1.1"/>
<line x1="490" y1="411.6" x2="490" y2="414.2" stroke="#111" stroke-width="1.1"/>
<line x1="504.8" y1="411.6" x2="504.8" y2="414.2" stroke="#111" stroke-width="1.1"/>
<path d="M474.6 379.6 L474.6 343.3 L504.8 343.3 L504.8 354.8" fill="none" stroke="#1a1a1a" stroke-width="1"/>
<text x="489.1" y="341.2" font-size="6.5" text-anchor="middle">*</text>
<text x="451" y="423.2" font-size="7.0" textLength="16.8" lengthAdjust="spacingAndGlyphs">rEGF</text>
<text x="474.8" y="423.2" font-size="7.0" text-anchor="middle">–</text>
<text x="489.2" y="423.2" font-size="7.0" text-anchor="middle">+</text>
<text x="504.6" y="423.2" font-size="7.0" text-anchor="middle">++</text>
<text x="434.9" y="383.8" font-size="7.3" text-anchor="middle" class="med" transform="rotate(-90 434.9 383.8)" textLength="42.5" lengthAdjust="spacingAndGlyphs">Gli distribution</text>
<text x="445.6" y="383" font-size="7.0" text-anchor="middle" class="med" transform="rotate(-90 445.6 383)" textLength="55.6" lengthAdjust="spacingAndGlyphs">(nucleus/total ratio)</text>
</g>
<rect x="0" y="0" width="520" height="1.1" fill="#000"/>
<rect x="0" y="0" width="1" height="508" fill="#000"/>
<rect x="519" y="0" width="1" height="508" fill="#000"/>
<rect x="0" y="506.6" width="520" height="1.4" fill="#000"/>
</svg></body></html>
